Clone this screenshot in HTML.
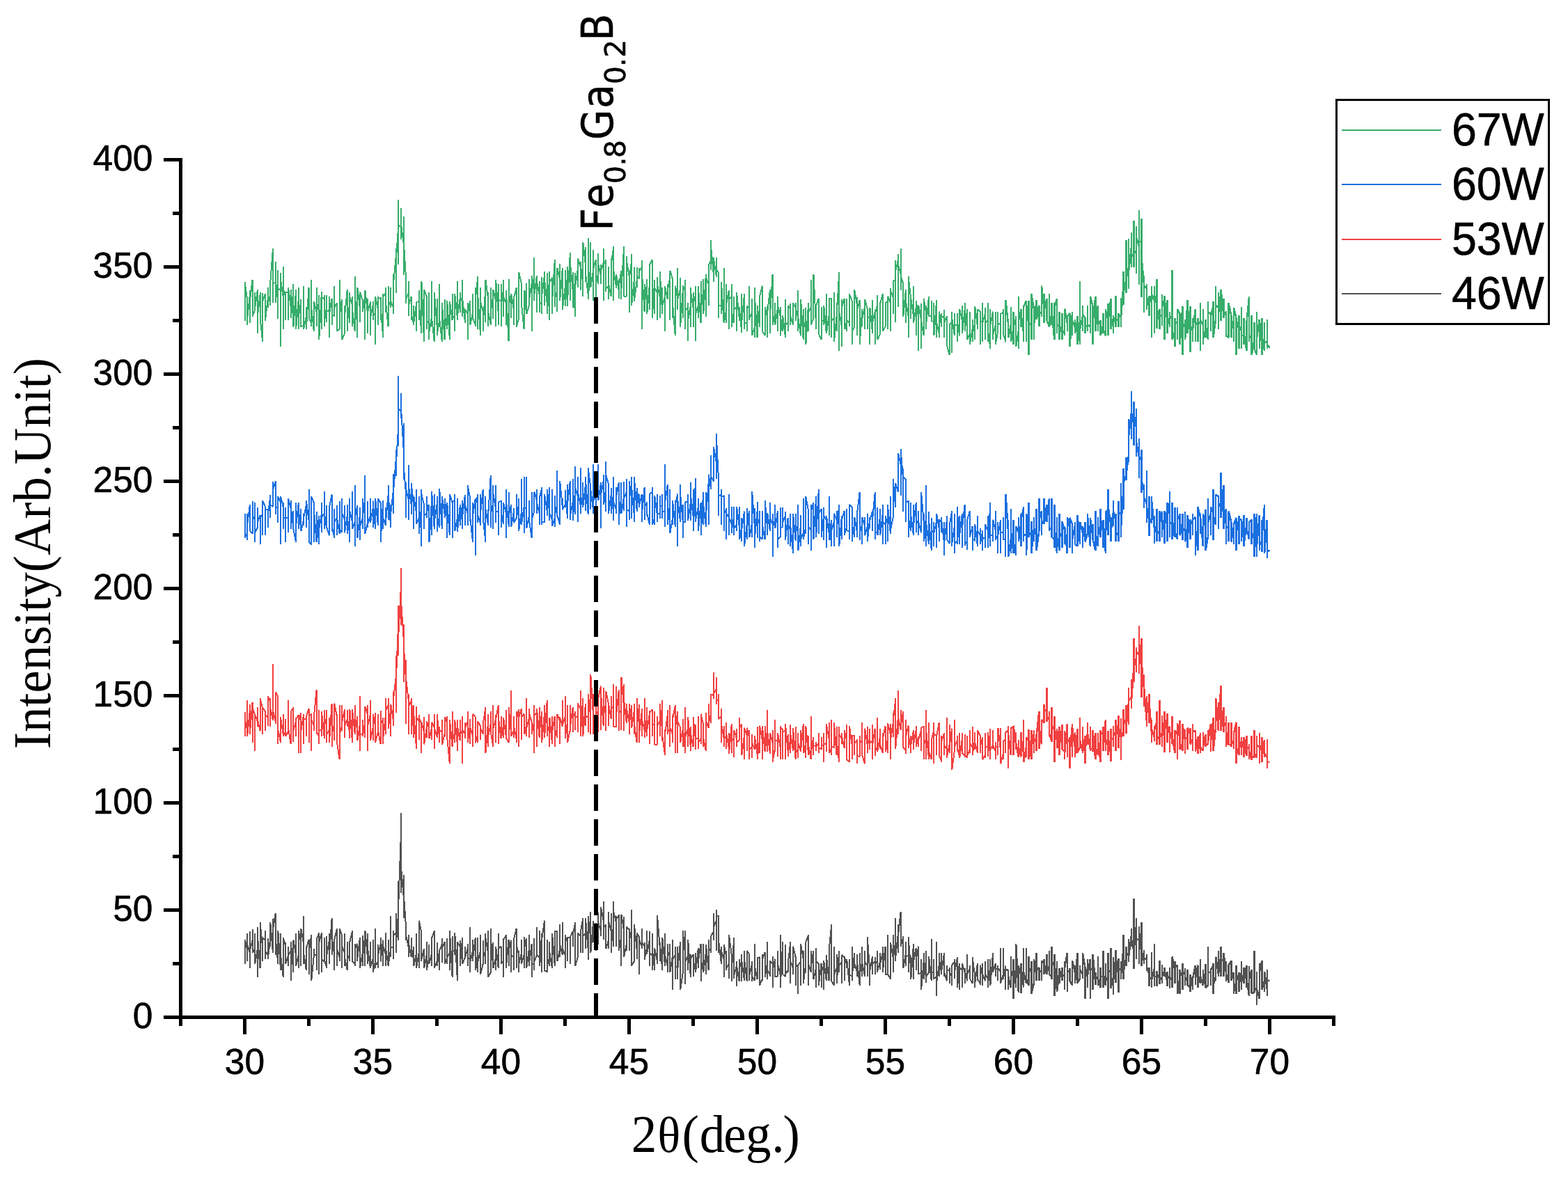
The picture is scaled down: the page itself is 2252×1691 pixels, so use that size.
<!DOCTYPE html>
<html lang="en"><head><meta charset="utf-8"><title>XRD patterns</title>
<style>html,body{margin:0;padding:0;background:#fff;overflow:hidden}svg{display:block}text{fill:#000}</style>
</head><body>
<svg width="2252" height="1691" viewBox="0 0 2252 1691" role="img" aria-label="XRD patterns of Fe0.8Ga0.2B films at 46W, 53W, 60W and 67W">
<rect x="0" y="0" width="2252" height="1691" fill="#fff"/>
<g id="traces">
<polyline points="351.50,1375.0 351.50,1353.7 351.50,1384.5 351.50,1349.7 351.50,1366.0 355.18,1350.6 355.18,1381.1 355.18,1350.6 355.18,1340.5 355.18,1356.8 358.86,1369.1 358.86,1391.3 358.86,1338.3 358.86,1362.9 358.86,1366.0 362.54,1350.6 362.54,1340.5 362.54,1369.1 362.54,1335.2 362.54,1369.1 366.22,1362.9 366.22,1384.5 366.22,1341.4 366.22,1372.2 366.22,1384.5 369.90,1362.9 369.90,1347.5 369.90,1403.6 369.90,1331.5 369.90,1344.5 373.58,1391.3 373.58,1372.2 373.58,1359.9 373.58,1375.3 373.58,1325.1 377.26,1362.9 377.26,1347.5 377.26,1381.1 377.26,1375.3 377.26,1347.5 380.94,1350.6 380.94,1375.0 380.94,1378.3 380.94,1337.4 380.94,1366.0 384.62,1372.2 384.62,1347.5 384.62,1353.7 384.62,1347.5 384.62,1378.3 388.30,1347.5 388.30,1356.8 388.30,1359.9 388.30,1325.1 391.98,1369.1 391.98,1335.2 391.98,1319.5 391.98,1369.1 391.98,1335.2 395.66,1312.4 395.66,1332.1 395.66,1372.2 395.66,1350.6 395.66,1347.5 399.34,1384.5 399.34,1362.9 399.34,1366.0 399.34,1359.9 399.34,1337.4 403.02,1394.0 403.02,1356.8 403.02,1344.5 403.02,1340.5 403.02,1372.2 406.70,1403.6 406.70,1369.1 406.70,1346.9 406.70,1350.6 406.70,1347.5 410.38,1359.9 410.38,1353.7 410.38,1362.9 410.38,1384.5 414.06,1372.2 414.06,1359.9 414.06,1369.1 414.06,1387.6 414.06,1372.2 417.74,1366.0 417.74,1384.5 417.74,1409.4 417.74,1353.1 421.42,1397.1 421.42,1381.4 421.42,1362.9 421.42,1378.3 421.42,1350.6 425.10,1372.2 425.10,1341.4 425.10,1387.6 425.10,1366.0 425.10,1387.6 428.78,1372.2 428.78,1359.9 428.78,1390.7 428.78,1372.2 428.78,1337.4 432.46,1353.7 432.46,1387.6 432.46,1381.1 432.46,1369.1 432.46,1334.3 436.14,1356.8 436.14,1384.5 436.14,1315.5 436.14,1356.8 436.14,1369.1 439.82,1394.0 439.82,1366.0 439.82,1384.5 439.82,1372.2 439.82,1362.9 443.50,1349.7 443.50,1372.2 443.50,1400.2 443.50,1369.1 447.18,1343.2 447.18,1366.0 447.18,1372.2 447.18,1362.9 447.18,1409.4 450.86,1372.2 450.86,1362.9 450.86,1372.2 450.86,1362.9 450.86,1372.2 454.54,1372.2 454.54,1362.9 454.54,1394.0 454.54,1369.1 454.54,1349.7 458.22,1340.5 458.22,1341.4 458.22,1400.2 458.22,1369.1 458.22,1353.7 461.90,1340.5 461.90,1397.1 461.90,1356.8 461.90,1378.3 465.58,1381.4 465.58,1350.6 465.58,1346.9 465.58,1378.3 469.26,1390.7 469.26,1355.9 469.26,1378.3 469.26,1344.5 469.26,1372.2 472.94,1350.6 472.94,1384.5 472.94,1353.7 472.94,1341.4 472.94,1372.2 476.62,1319.5 476.62,1362.9 476.62,1372.2 476.62,1362.9 476.62,1347.5 480.30,1372.2 480.30,1394.0 480.30,1366.0 480.30,1349.7 483.98,1334.3 483.98,1387.6 483.98,1384.5 483.98,1375.3 483.98,1362.9 487.66,1375.3 487.66,1372.2 487.66,1369.1 487.66,1381.1 487.66,1334.3 491.34,1344.5 491.34,1391.3 491.34,1356.8 491.34,1359.9 495.02,1369.1 495.02,1378.3 495.02,1340.5 495.02,1387.6 495.02,1375.3 498.70,1394.0 498.70,1353.1 498.70,1359.9 498.70,1353.7 498.70,1372.2 502.38,1378.6 502.38,1381.4 502.38,1375.3 502.38,1353.1 506.06,1337.4 506.06,1381.4 506.06,1356.8 506.06,1381.4 509.74,1384.5 509.74,1362.9 509.74,1355.9 509.74,1387.6 509.74,1362.9 513.42,1355.9 513.42,1366.0 513.42,1381.1 513.42,1369.1 513.42,1375.3 517.10,1346.9 517.10,1390.7 517.10,1366.0 517.10,1356.8 517.10,1390.7 520.78,1369.1 520.78,1359.9 520.78,1344.5 520.78,1387.6 520.78,1344.5 524.46,1378.3 524.46,1375.3 524.46,1387.6 524.46,1366.0 524.46,1337.4 528.14,1378.3 528.14,1384.5 528.14,1381.4 528.14,1340.5 528.14,1362.9 531.82,1390.7 531.82,1384.5 531.82,1369.1 531.82,1353.1 531.82,1390.7 535.50,1378.3 535.50,1356.8 535.50,1369.1 535.50,1349.7 535.50,1397.1 539.18,1381.4 539.18,1390.7 539.18,1381.4 539.18,1334.3 539.18,1387.6 542.86,1381.4 542.86,1369.1 542.86,1356.8 542.86,1391.3 542.86,1372.2 546.54,1356.8 546.54,1378.3 546.54,1359.9 546.54,1346.9 546.54,1381.4 550.22,1350.6 550.22,1387.6 550.22,1375.3 550.22,1384.5 550.22,1359.6 553.90,1371.0 553.90,1387.6 553.90,1340.1 553.90,1361.8 557.58,1387.6 557.58,1349.7 557.58,1372.2 557.58,1366.0 557.58,1387.6 561.26,1362.9 561.26,1375.3 561.26,1315.5 561.26,1362.0 564.94,1360.0 564.94,1337.1 564.94,1378.3 564.94,1343.8 568.62,1340.1 568.62,1369.1 568.62,1312.4 568.62,1359.4 572.30,1308.9 572.30,1350.6 572.30,1265.9 572.30,1298.1 575.98,1197.5 575.98,1282.9 575.98,1168.0 575.98,1245.6 579.66,1287.6 579.66,1318.9 579.66,1257.0 579.66,1283.4 583.34,1335.1 583.34,1327.2 583.34,1350.6 583.34,1344.9 587.02,1362.0 587.02,1375.3 587.02,1343.2 587.02,1356.0 590.70,1375.0 590.70,1346.9 590.70,1359.9 590.70,1375.3 590.70,1359.9 594.38,1381.4 594.38,1362.9 594.38,1359.9 594.38,1375.3 594.38,1387.6 598.06,1369.1 598.06,1340.5 598.06,1387.6 598.06,1384.5 598.06,1390.7 601.74,1369.1 601.74,1391.3 601.74,1381.4 601.74,1372.2 601.74,1322.6 605.42,1340.5 605.42,1381.1 605.42,1378.3 605.42,1362.9 605.42,1378.3 609.10,1362.9 609.10,1369.1 609.10,1362.9 609.10,1375.3 609.10,1390.7 612.78,1372.2 612.78,1375.3 612.78,1353.1 612.78,1375.3 612.78,1394.0 616.46,1375.3 616.46,1356.8 616.46,1375.3 616.46,1362.9 616.46,1384.5 620.14,1369.1 620.14,1387.6 620.14,1369.1 620.14,1347.5 623.82,1337.4 623.82,1359.9 623.82,1390.7 623.82,1378.3 623.82,1390.7 627.50,1381.4 627.50,1353.7 627.50,1378.3 627.50,1381.4 627.50,1387.6 631.18,1366.0 631.18,1394.0 631.18,1366.0 634.86,1356.8 634.86,1359.9 634.86,1383.0 634.86,1347.5 634.86,1362.9 638.54,1353.1 638.54,1378.3 638.54,1384.5 638.54,1375.3 642.22,1384.5 642.22,1347.5 642.22,1378.3 642.22,1381.1 642.22,1375.3 645.90,1369.1 645.90,1356.8 645.90,1394.0 645.90,1372.2 645.90,1337.4 649.58,1403.6 649.58,1344.5 649.58,1356.8 649.58,1359.9 649.58,1366.0 653.26,1366.0 653.26,1369.1 653.26,1372.2 653.26,1356.8 653.26,1340.5 656.94,1409.4 656.94,1378.3 656.94,1356.8 656.94,1353.1 660.62,1359.9 660.62,1350.6 660.62,1359.9 660.62,1356.8 660.62,1387.6 664.30,1346.9 664.30,1350.6 664.30,1384.5 664.30,1369.1 664.30,1384.5 667.98,1375.3 667.98,1359.9 667.98,1375.3 667.98,1372.2 667.98,1375.3 671.66,1362.9 671.66,1366.0 671.66,1355.9 671.66,1387.6 671.66,1375.3 675.34,1378.3 675.34,1396.5 675.34,1372.2 675.34,1331.5 675.34,1381.4 679.02,1366.0 679.02,1381.4 679.02,1349.7 679.02,1378.3 682.70,1347.5 682.70,1356.8 682.70,1394.0 682.70,1362.9 682.70,1369.1 686.38,1397.1 686.38,1375.3 686.38,1393.7 686.38,1346.9 686.38,1381.4 690.06,1366.0 690.06,1343.2 690.06,1362.9 690.06,1400.2 693.74,1384.5 693.74,1381.4 693.74,1353.7 693.74,1350.6 693.74,1375.3 697.42,1366.0 697.42,1340.5 697.42,1356.8 697.42,1384.5 697.42,1347.5 701.10,1369.1 701.10,1387.6 701.10,1381.4 701.10,1337.4 701.10,1403.6 704.78,1397.1 704.78,1356.8 704.78,1334.3 704.78,1359.9 704.78,1347.5 708.46,1390.7 708.46,1375.3 708.46,1353.7 708.46,1359.9 708.46,1390.7 712.14,1375.3 712.14,1362.9 712.14,1393.7 712.14,1359.6 715.82,1391.3 715.82,1362.9 715.82,1340.5 715.82,1359.9 715.82,1362.9 719.50,1359.9 719.50,1362.9 719.50,1369.1 719.50,1381.4 719.50,1384.5 723.18,1381.4 723.18,1347.5 723.18,1403.6 723.18,1393.7 723.18,1350.6 726.86,1343.2 726.86,1381.4 726.86,1369.1 726.86,1384.5 726.86,1390.7 730.54,1349.7 730.54,1387.6 730.54,1356.8 730.54,1359.9 730.54,1366.0 734.22,1350.6 734.22,1356.8 734.22,1372.2 734.22,1397.1 734.22,1372.2 737.90,1375.3 737.90,1356.8 737.90,1394.0 737.90,1349.7 741.58,1334.3 741.58,1391.3 741.58,1369.1 741.58,1350.6 741.58,1356.8 745.26,1372.2 745.26,1381.4 745.26,1366.0 745.26,1397.1 745.26,1384.5 748.94,1369.1 748.94,1372.2 748.94,1369.1 748.94,1349.7 748.94,1384.5 752.62,1372.2 752.62,1384.5 752.62,1372.2 752.62,1391.3 752.62,1346.6 756.30,1362.9 756.30,1347.5 756.30,1387.6 756.30,1390.7 759.98,1362.9 759.98,1353.7 759.98,1343.2 759.98,1387.6 759.98,1384.5 763.66,1355.9 763.66,1403.6 763.66,1369.1 763.66,1356.8 763.66,1384.5 767.34,1384.5 767.34,1347.5 767.34,1394.0 767.34,1372.2 767.34,1381.4 771.02,1372.2 771.02,1362.9 771.02,1372.2 771.02,1331.5 771.02,1372.2 774.70,1375.3 774.70,1387.6 774.70,1381.4 774.70,1372.2 774.70,1337.4 778.38,1396.5 778.38,1340.5 778.38,1372.2 778.38,1369.1 778.38,1347.5 782.06,1322.6 782.06,1369.1 782.06,1353.7 782.06,1372.2 782.06,1394.0 785.74,1396.5 785.74,1378.3 785.74,1349.7 785.74,1381.4 785.74,1375.3 789.42,1387.6 789.42,1353.1 789.42,1356.8 789.42,1381.4 789.42,1369.1 793.10,1391.3 793.10,1355.9 793.10,1387.6 793.10,1375.3 793.10,1341.4 796.78,1387.6 796.78,1346.6 796.78,1387.6 796.78,1375.3 796.78,1338.3 800.46,1337.4 800.46,1375.3 800.46,1344.5 800.46,1381.1 804.14,1362.9 804.14,1375.0 804.14,1328.4 804.14,1338.3 804.14,1356.8 807.82,1372.2 807.82,1325.1 807.82,1362.9 807.82,1359.9 807.82,1362.9 811.50,1372.2 811.50,1343.2 811.50,1347.5 811.50,1391.3 811.50,1344.5 815.18,1353.7 815.18,1381.4 815.18,1366.0 815.18,1356.8 815.18,1346.6 818.86,1347.5 818.86,1384.5 818.86,1381.4 818.86,1346.6 822.54,1338.0 822.54,1353.7 822.54,1359.9 822.54,1356.8 822.54,1344.5 826.22,1325.1 826.22,1347.5 826.22,1332.1 826.22,1344.5 826.22,1387.6 829.90,1375.0 829.90,1362.9 829.90,1344.5 829.90,1347.5 829.90,1340.5 833.58,1344.5 833.58,1369.4 833.58,1356.8 833.58,1350.6 833.58,1340.5 837.26,1319.5 837.26,1369.4 837.26,1350.6 837.26,1338.3 837.26,1344.5 840.94,1341.4 840.94,1344.5 840.94,1347.5 840.94,1362.9 840.94,1319.5 844.62,1362.9 844.62,1378.6 844.62,1315.5 844.62,1322.9 844.62,1316.7 848.30,1347.5 848.30,1332.1 848.30,1310.3 848.30,1359.6 848.30,1369.1 851.98,1325.1 851.98,1344.5 851.98,1354.0 851.98,1338.3 851.98,1322.9 855.66,1347.5 855.66,1326.0 855.66,1347.5 855.66,1366.0 855.66,1350.6 859.34,1356.8 859.34,1341.4 859.34,1338.3 859.34,1310.6 859.34,1326.0 863.02,1338.0 863.02,1341.4 863.02,1344.5 863.02,1341.4 863.02,1303.5 866.70,1322.9 866.70,1349.7 866.70,1294.6 866.70,1316.7 866.70,1332.1 870.38,1329.1 870.38,1354.0 870.38,1327.8 870.38,1347.5 870.38,1362.9 874.06,1350.6 874.06,1310.3 874.06,1341.4 874.06,1362.9 874.06,1322.9 877.74,1338.3 877.74,1335.2 877.74,1369.4 877.74,1312.4 877.74,1329.1 881.42,1359.6 881.42,1319.8 881.42,1294.6 881.42,1322.9 881.42,1310.6 885.10,1326.0 885.10,1315.5 885.10,1344.5 885.10,1359.6 885.10,1319.8 888.78,1315.5 888.78,1326.0 888.78,1338.3 888.78,1313.7 888.78,1366.0 892.46,1344.5 892.46,1387.6 892.46,1315.5 892.46,1329.1 892.46,1313.7 896.14,1338.3 896.14,1325.1 896.14,1316.7 896.14,1329.1 896.14,1375.0 899.82,1356.8 899.82,1338.3 899.82,1366.0 899.82,1341.4 899.82,1331.5 903.50,1335.2 903.50,1341.4 903.50,1350.6 903.50,1366.0 903.50,1334.3 907.18,1350.6 907.18,1366.0 907.18,1353.7 907.18,1306.6 907.18,1387.6 910.86,1381.1 910.86,1359.9 910.86,1335.2 910.86,1369.1 910.86,1328.4 914.54,1362.9 914.54,1378.3 914.54,1344.5 914.54,1347.5 914.54,1340.5 918.22,1346.6 918.22,1350.6 918.22,1359.9 918.22,1400.2 918.22,1350.6 921.90,1359.9 921.90,1344.5 921.90,1362.9 921.90,1334.3 921.90,1353.7 925.58,1359.9 925.58,1372.2 925.58,1356.8 925.58,1353.7 925.58,1378.6 929.26,1359.9 929.26,1371.3 929.26,1366.0 929.26,1337.4 929.26,1369.1 932.94,1349.7 932.94,1338.3 932.94,1387.6 932.94,1369.1 936.62,1372.2 936.62,1366.0 936.62,1340.5 936.62,1394.0 936.62,1362.9 940.30,1394.0 940.30,1375.3 940.30,1362.3 940.30,1369.1 940.30,1362.9 943.98,1381.4 943.98,1356.8 943.98,1359.9 943.98,1384.5 943.98,1315.5 947.66,1359.9 947.66,1381.1 947.66,1381.4 947.66,1366.0 947.66,1353.7 951.34,1394.0 951.34,1359.9 951.34,1353.7 951.34,1346.6 951.34,1347.5 955.02,1387.6 955.02,1384.5 955.02,1340.5 955.02,1381.4 955.02,1372.2 958.70,1387.6 958.70,1396.8 958.70,1355.9 958.70,1396.8 958.70,1375.3 962.38,1366.0 962.38,1362.9 962.38,1355.9 962.38,1378.3 962.38,1396.5 966.06,1372.2 966.06,1375.3 966.06,1422.4 966.06,1349.7 966.06,1378.3 969.74,1372.2 969.74,1359.6 969.74,1384.5 969.74,1406.7 969.74,1387.6 973.42,1390.7 973.42,1359.6 973.42,1406.7 973.42,1390.7 977.10,1353.1 977.10,1375.3 977.10,1378.3 977.10,1381.4 977.10,1422.4 980.78,1397.1 980.78,1337.4 980.78,1384.5 980.78,1369.1 980.78,1372.2 984.46,1337.4 984.46,1413.5 984.46,1381.4 984.46,1390.7 984.46,1381.4 988.14,1372.2 988.14,1390.7 988.14,1387.6 988.14,1394.0 988.14,1349.7 991.82,1403.6 991.82,1387.6 991.82,1371.3 991.82,1378.3 995.50,1371.3 995.50,1393.7 995.50,1403.0 995.50,1384.5 995.50,1396.8 999.18,1381.4 999.18,1368.5 999.18,1390.7 999.18,1381.4 999.18,1396.5 1002.86,1362.3 1002.86,1390.7 1002.86,1372.2 1002.86,1384.5 1002.86,1381.4 1006.54,1355.9 1006.54,1396.8 1006.54,1409.8 1006.54,1387.6 1006.54,1378.3 1010.22,1396.8 1010.22,1378.3 1010.22,1372.2 1010.22,1355.9 1010.22,1397.1 1013.90,1368.5 1013.90,1400.2 1013.90,1387.6 1013.90,1356.8 1017.58,1393.7 1017.58,1349.7 1017.58,1384.5 1017.58,1372.2 1017.58,1366.0 1021.26,1363.2 1021.26,1346.6 1021.26,1369.1 1021.26,1359.9 1021.26,1344.5 1024.94,1338.3 1024.94,1350.6 1024.94,1335.2 1024.94,1312.4 1024.94,1332.1 1028.62,1322.9 1028.62,1366.0 1028.62,1322.9 1028.62,1306.6 1028.62,1316.7 1032.30,1315.5 1032.30,1353.7 1032.30,1368.5 1032.30,1353.7 1035.98,1384.5 1035.98,1366.0 1035.98,1359.9 1035.98,1366.0 1039.66,1378.3 1039.66,1403.6 1039.66,1369.1 1039.66,1368.5 1039.66,1356.8 1043.34,1375.3 1043.34,1394.0 1043.34,1369.1 1043.34,1366.0 1043.34,1390.7 1047.02,1384.5 1047.02,1372.2 1047.02,1399.9 1047.02,1406.1 1047.02,1343.2 1050.70,1371.3 1050.70,1409.8 1050.70,1384.5 1050.70,1372.2 1050.70,1393.7 1054.38,1346.6 1054.38,1372.2 1054.38,1406.1 1054.38,1390.7 1054.38,1399.9 1058.06,1387.6 1058.06,1381.1 1058.06,1416.5 1058.06,1390.7 1058.06,1387.6 1061.74,1409.8 1061.74,1378.3 1061.74,1377.7 1061.74,1381.4 1065.42,1390.7 1065.42,1409.8 1065.42,1384.5 1065.42,1371.3 1065.42,1381.4 1069.10,1409.1 1069.10,1366.0 1069.10,1396.8 1069.10,1403.0 1069.10,1378.3 1072.78,1409.8 1072.78,1377.7 1072.78,1399.9 1072.78,1387.6 1072.78,1366.0 1076.46,1371.3 1076.46,1409.1 1076.46,1399.9 1076.46,1375.3 1076.46,1399.9 1080.14,1384.5 1080.14,1381.1 1080.14,1409.8 1080.14,1381.4 1080.14,1403.0 1083.82,1409.1 1083.82,1384.5 1083.82,1381.4 1083.82,1355.9 1083.82,1387.6 1087.50,1406.7 1087.50,1393.7 1087.50,1375.3 1087.50,1384.5 1087.50,1377.7 1091.18,1375.0 1091.18,1406.1 1091.18,1403.0 1091.18,1406.1 1091.18,1415.6 1094.86,1406.1 1094.86,1409.1 1094.86,1371.3 1094.86,1393.7 1094.86,1378.3 1098.54,1368.5 1098.54,1403.6 1098.54,1372.2 1098.54,1381.4 1102.22,1403.0 1102.22,1353.1 1102.22,1387.6 1102.22,1406.7 1102.22,1393.7 1105.90,1399.9 1105.90,1396.8 1105.90,1403.0 1105.90,1380.5 1109.58,1384.5 1109.58,1419.3 1109.58,1374.0 1109.58,1378.3 1109.58,1393.7 1113.26,1377.7 1113.26,1403.6 1113.26,1393.7 1113.26,1390.7 1113.26,1403.0 1116.94,1403.0 1116.94,1378.3 1116.94,1393.7 1116.94,1365.7 1116.94,1384.5 1120.62,1399.9 1120.62,1393.7 1120.62,1396.8 1120.62,1343.2 1120.62,1419.3 1124.30,1353.4 1124.30,1384.5 1124.30,1396.8 1124.30,1393.7 1124.30,1399.9 1127.98,1403.0 1127.98,1356.5 1127.98,1396.8 1127.98,1399.9 1131.66,1393.7 1131.66,1377.7 1131.66,1396.8 1131.66,1387.6 1131.66,1384.5 1135.34,1353.4 1135.34,1381.4 1135.34,1384.5 1135.34,1412.5 1135.34,1381.4 1139.02,1390.7 1139.02,1399.9 1139.02,1387.6 1139.02,1359.6 1142.70,1375.3 1142.70,1390.7 1142.70,1374.0 1142.70,1415.6 1142.70,1384.5 1146.38,1390.7 1146.38,1387.6 1146.38,1428.2 1146.38,1386.7 1150.06,1381.4 1150.06,1399.9 1150.06,1415.6 1150.06,1396.8 1150.06,1356.5 1153.74,1378.6 1153.74,1366.0 1153.74,1375.3 1153.74,1412.8 1157.42,1384.5 1157.42,1369.1 1157.42,1396.8 1157.42,1353.4 1161.10,1343.2 1161.10,1415.6 1161.10,1399.9 1161.10,1406.1 1161.10,1384.5 1164.78,1396.8 1164.78,1369.1 1164.78,1378.3 1164.78,1366.0 1168.46,1390.7 1168.46,1393.7 1168.46,1365.7 1168.46,1390.7 1168.46,1406.7 1172.14,1390.7 1172.14,1384.5 1172.14,1419.3 1172.14,1362.3 1172.14,1381.4 1175.82,1384.5 1175.82,1383.9 1175.82,1396.8 1175.82,1393.7 1175.82,1415.6 1179.50,1384.5 1179.50,1419.3 1179.50,1386.7 1179.50,1387.6 1179.50,1396.8 1183.18,1387.6 1183.18,1393.7 1183.18,1422.1 1183.18,1393.7 1183.18,1380.5 1186.86,1409.4 1186.86,1393.7 1186.86,1396.8 1186.86,1378.3 1186.86,1372.2 1190.54,1409.4 1190.54,1378.3 1190.54,1365.7 1190.54,1366.0 1194.22,1328.4 1194.22,1390.7 1194.22,1387.6 1194.22,1390.7 1194.22,1409.4 1197.90,1415.6 1197.90,1384.5 1197.90,1381.4 1197.90,1359.6 1197.90,1399.9 1201.58,1390.7 1201.58,1406.1 1201.58,1371.3 1201.58,1393.7 1201.58,1412.5 1205.26,1365.7 1205.26,1396.8 1205.26,1387.6 1205.26,1384.5 1205.26,1387.6 1208.94,1381.4 1208.94,1386.7 1208.94,1412.8 1208.94,1387.6 1208.94,1372.2 1212.62,1375.3 1212.62,1378.3 1212.62,1409.4 1212.62,1375.3 1212.62,1374.0 1216.30,1386.7 1216.30,1380.5 1216.30,1390.7 1216.30,1381.4 1216.30,1378.3 1219.98,1415.6 1219.98,1396.8 1219.98,1377.7 1219.98,1390.7 1219.98,1399.9 1223.66,1403.0 1223.66,1409.1 1223.66,1359.6 1223.66,1403.0 1227.34,1368.8 1227.34,1390.7 1227.34,1387.6 1227.34,1390.4 1227.34,1384.5 1231.02,1396.8 1231.02,1390.4 1231.02,1403.0 1231.02,1371.3 1231.02,1381.4 1234.70,1415.6 1234.70,1387.6 1234.70,1384.5 1234.70,1368.8 1234.70,1381.4 1238.38,1399.9 1238.38,1403.0 1238.38,1396.8 1238.38,1359.6 1238.38,1384.5 1242.06,1403.0 1242.06,1369.1 1242.06,1368.8 1242.06,1366.0 1242.06,1381.4 1245.74,1387.6 1245.74,1393.7 1245.74,1403.0 1245.74,1381.4 1245.74,1346.3 1249.42,1396.8 1249.42,1383.9 1249.42,1396.8 1249.42,1415.6 1249.42,1393.7 1253.10,1374.0 1253.10,1378.3 1253.10,1384.5 1253.10,1399.9 1253.10,1384.5 1256.78,1381.4 1256.78,1399.9 1256.78,1375.3 1256.78,1390.7 1256.78,1380.5 1260.46,1384.5 1260.46,1381.4 1260.46,1396.8 1260.46,1365.7 1260.46,1393.7 1264.14,1381.4 1264.14,1393.1 1264.14,1387.6 1264.14,1368.8 1264.14,1384.5 1267.82,1369.1 1267.82,1359.6 1267.82,1362.9 1267.82,1381.4 1267.82,1396.8 1271.50,1359.6 1271.50,1384.5 1271.50,1362.9 1271.50,1387.6 1271.50,1399.9 1275.18,1399.9 1275.18,1343.2 1275.18,1393.1 1275.18,1381.4 1275.18,1399.9 1278.86,1406.7 1278.86,1359.9 1278.86,1362.9 1278.86,1356.5 1278.86,1353.7 1282.54,1375.3 1282.54,1396.8 1282.54,1343.2 1282.54,1369.1 1282.54,1378.3 1286.22,1353.7 1286.22,1347.5 1286.22,1380.5 1286.22,1319.2 1286.22,1375.3 1289.90,1341.4 1289.90,1368.8 1289.90,1328.4 1289.90,1344.5 1293.58,1310.3 1293.58,1329.1 1293.58,1341.4 1293.58,1329.1 1293.58,1359.6 1297.26,1346.3 1297.26,1356.8 1297.26,1350.6 1297.26,1344.5 1297.26,1391.3 1300.94,1369.1 1300.94,1386.7 1300.94,1387.6 1300.94,1353.4 1300.94,1375.3 1304.62,1372.2 1304.62,1396.8 1304.62,1381.4 1304.62,1390.7 1304.62,1346.3 1308.30,1393.7 1308.30,1374.0 1308.30,1378.3 1308.30,1406.7 1311.98,1356.5 1311.98,1406.7 1311.98,1384.5 1311.98,1381.4 1315.66,1362.3 1315.66,1393.1 1315.66,1387.6 1315.66,1393.7 1315.66,1378.3 1319.34,1359.6 1319.34,1396.8 1319.34,1393.7 1319.34,1396.8 1319.34,1399.9 1323.02,1396.8 1323.02,1377.7 1323.02,1393.7 1323.02,1396.8 1323.02,1422.1 1326.70,1381.4 1326.70,1368.8 1326.70,1387.6 1326.70,1406.7 1326.70,1375.3 1330.38,1409.1 1330.38,1409.4 1330.38,1365.7 1330.38,1412.2 1330.38,1403.0 1334.06,1396.8 1334.06,1381.4 1334.06,1396.8 1334.06,1374.0 1337.74,1409.4 1337.74,1384.5 1337.74,1349.4 1337.74,1390.7 1337.74,1396.8 1341.42,1396.8 1341.42,1377.7 1341.42,1387.6 1341.42,1406.7 1341.42,1406.1 1345.10,1403.0 1345.10,1353.4 1345.10,1431.0 1345.10,1396.8 1345.10,1412.2 1348.78,1386.7 1348.78,1368.8 1348.78,1403.0 1348.78,1372.2 1348.78,1378.3 1352.46,1399.9 1352.46,1396.8 1352.46,1368.8 1352.46,1387.6 1352.46,1393.7 1356.14,1368.8 1356.14,1399.9 1356.14,1396.8 1356.14,1403.0 1356.14,1396.8 1359.82,1409.4 1359.82,1409.1 1359.82,1386.7 1359.82,1406.1 1359.82,1393.7 1363.50,1393.7 1363.50,1412.8 1363.50,1390.4 1363.50,1396.8 1367.18,1403.0 1367.18,1396.8 1367.18,1415.6 1367.18,1390.7 1367.18,1386.7 1370.86,1381.4 1370.86,1377.7 1370.86,1393.7 1370.86,1406.1 1370.86,1396.8 1374.54,1378.3 1374.54,1377.7 1374.54,1419.3 1374.54,1387.6 1374.54,1375.3 1378.22,1422.1 1378.22,1403.0 1378.22,1412.2 1378.22,1383.9 1378.22,1390.7 1381.90,1393.7 1381.90,1419.3 1381.90,1399.9 1381.90,1383.9 1381.90,1384.5 1385.58,1396.8 1385.58,1390.7 1385.58,1412.5 1385.58,1412.2 1385.58,1393.7 1389.26,1409.4 1389.26,1371.3 1389.26,1384.5 1389.26,1396.8 1389.26,1399.9 1392.94,1390.7 1392.94,1386.7 1392.94,1406.1 1392.94,1406.7 1392.94,1406.1 1396.62,1412.8 1396.62,1390.7 1396.62,1390.4 1396.62,1378.3 1396.62,1375.3 1400.30,1403.0 1400.30,1412.2 1400.30,1419.3 1400.30,1403.0 1400.30,1412.2 1403.98,1383.9 1403.98,1409.4 1403.98,1387.6 1403.98,1390.7 1403.98,1406.1 1407.66,1412.8 1407.66,1409.1 1407.66,1403.0 1407.66,1415.3 1407.66,1386.7 1411.34,1403.0 1411.34,1415.6 1411.34,1396.8 1411.34,1383.9 1411.34,1399.9 1415.02,1409.4 1415.02,1393.7 1415.02,1383.9 1415.02,1381.4 1415.02,1399.9 1418.70,1406.1 1418.70,1377.7 1418.70,1412.2 1418.70,1419.3 1418.70,1415.3 1422.38,1387.6 1422.38,1378.3 1422.38,1386.7 1422.38,1384.5 1422.38,1415.6 1426.06,1368.8 1426.06,1387.6 1426.06,1378.3 1426.06,1390.7 1426.06,1396.8 1429.74,1383.9 1429.74,1387.6 1429.74,1403.0 1429.74,1393.7 1429.74,1390.7 1433.42,1393.7 1433.42,1409.4 1433.42,1386.7 1433.42,1409.1 1433.42,1390.7 1437.10,1396.8 1437.10,1362.3 1437.10,1412.2 1437.10,1393.7 1437.10,1412.8 1440.78,1399.9 1440.78,1362.3 1440.78,1390.7 1440.78,1406.7 1444.46,1387.6 1444.46,1403.0 1444.46,1396.8 1444.46,1422.1 1444.46,1393.7" fill="none" stroke="#515151" stroke-width="2" stroke-linejoin="bevel" shape-rendering="crispEdges"/>
<polyline points="1444.46,1393.7 1448.14,1393.7 1448.14,1396.8 1448.14,1403.0 1448.14,1422.1 1448.14,1403.0 1451.82,1419.3 1451.82,1409.1 1451.82,1374.0 1451.82,1390.7 1451.82,1403.0 1455.50,1393.7 1455.50,1377.7 1455.50,1434.7 1455.50,1412.2 1455.50,1418.4 1459.18,1390.7 1459.18,1419.3 1459.18,1393.7 1459.18,1390.7 1459.18,1356.5 1462.86,1425.8 1462.86,1396.8 1462.86,1386.7 1462.86,1399.9 1466.54,1387.6 1466.54,1390.7 1466.54,1383.9 1466.54,1427.3 1466.54,1390.7 1470.22,1418.4 1470.22,1362.3 1470.22,1399.9 1470.22,1403.0 1470.22,1396.8 1473.90,1412.2 1473.90,1362.3 1473.90,1412.2 1473.90,1412.8 1473.90,1406.1 1477.58,1415.6 1477.58,1403.0 1477.58,1374.0 1477.58,1393.7 1477.58,1390.7 1481.26,1396.8 1481.26,1399.9 1481.26,1390.7 1481.26,1380.5 1481.26,1428.2 1484.94,1412.8 1484.94,1384.5 1484.94,1386.7 1484.94,1403.0 1484.94,1378.3 1488.62,1403.0 1488.62,1409.4 1488.62,1387.6 1488.62,1368.8 1488.62,1393.7 1492.30,1390.4 1492.30,1409.4 1492.30,1399.9 1492.30,1390.7 1492.30,1393.7 1495.98,1396.8 1495.98,1393.7 1495.98,1409.4 1495.98,1396.8 1495.98,1380.5 1499.66,1384.5 1499.66,1377.7 1499.66,1399.9 1499.66,1396.8 1499.66,1399.9 1503.34,1384.5 1503.34,1393.7 1503.34,1399.9 1503.34,1371.3 1503.34,1396.8 1507.02,1387.6 1507.02,1375.3 1507.02,1378.3 1507.02,1365.7 1507.02,1399.9 1510.70,1403.0 1510.70,1378.3 1510.70,1359.6 1510.70,1406.7 1510.70,1387.6 1514.38,1381.4 1514.38,1371.3 1514.38,1387.6 1514.38,1390.7 1514.38,1431.0 1518.06,1387.6 1518.06,1396.8 1518.06,1380.5 1518.06,1390.7 1518.06,1424.8 1521.74,1393.1 1521.74,1412.8 1521.74,1393.7 1521.74,1390.7 1521.74,1393.7 1525.42,1406.1 1525.42,1409.4 1525.42,1406.1 1525.42,1390.4 1525.42,1403.0 1529.10,1399.9 1529.10,1390.7 1529.10,1380.5 1529.10,1422.1 1529.10,1390.7 1532.78,1368.8 1532.78,1396.8 1532.78,1424.8 1532.78,1396.8 1536.46,1394.0 1536.46,1406.1 1536.46,1396.8 1536.46,1390.7 1536.46,1409.4 1540.14,1415.6 1540.14,1396.8 1540.14,1393.7 1540.14,1390.7 1540.14,1380.5 1543.82,1396.8 1543.82,1412.2 1543.82,1386.7 1543.82,1409.1 1543.82,1412.8 1547.50,1368.8 1547.50,1412.8 1547.50,1403.0 1547.50,1412.2 1551.18,1406.1 1551.18,1386.7 1551.18,1405.8 1551.18,1396.8 1551.18,1393.7 1554.86,1399.9 1554.86,1387.6 1554.86,1405.8 1554.86,1393.7 1554.86,1368.8 1558.54,1390.4 1558.54,1434.7 1558.54,1409.1 1558.54,1406.1 1562.22,1390.4 1562.22,1399.9 1562.22,1378.3 1562.22,1419.3 1562.22,1399.9 1565.90,1377.7 1565.90,1406.1 1565.90,1434.7 1565.90,1396.8 1565.90,1393.7 1569.58,1390.7 1569.58,1393.7 1569.58,1387.6 1569.58,1422.1 1569.58,1371.3 1573.26,1412.8 1573.26,1415.3 1573.26,1396.8 1573.26,1412.2 1573.26,1403.0 1576.94,1406.1 1576.94,1390.7 1576.94,1374.0 1576.94,1415.6 1576.94,1406.1 1580.62,1419.3 1580.62,1390.4 1580.62,1406.1 1580.62,1390.7 1580.62,1403.0 1584.30,1403.0 1584.30,1365.7 1584.30,1419.3 1584.30,1375.3 1584.30,1396.8 1587.98,1415.6 1587.98,1393.7 1587.98,1383.9 1587.98,1409.1 1591.66,1402.8 1591.66,1434.7 1591.66,1368.8 1591.66,1394.0 1595.34,1397.5 1595.34,1419.6 1595.34,1362.3 1595.34,1400.8 1599.02,1416.8 1599.02,1375.3 1599.02,1428.9 1599.02,1409.8 1602.70,1372.7 1602.70,1412.2 1602.70,1365.4 1602.70,1375.9 1606.38,1401.6 1606.38,1377.4 1606.38,1425.5 1606.38,1393.2 1610.06,1392.3 1610.06,1406.7 1610.06,1380.5 1610.06,1399.8 1613.74,1359.2 1613.74,1406.7 1613.74,1343.2 1613.74,1395.9 1617.42,1375.7 1617.42,1359.9 1617.42,1387.6 1617.42,1368.7 1621.10,1372.7 1621.10,1381.7 1621.10,1349.1 1621.10,1374.8 1624.78,1344.9 1624.78,1334.3 1624.78,1359.9 1624.78,1348.5 1628.46,1365.8 1628.46,1291.2 1628.46,1391.6 1628.46,1365.4 1632.14,1328.8 1632.14,1319.2 1632.14,1378.3 1632.14,1349.4 1635.82,1350.4 1635.82,1384.5 1635.82,1331.2 1635.82,1367.9 1639.50,1334.7 1639.50,1325.4 1639.50,1387.6 1639.50,1365.8 1643.18,1382.1 1643.18,1385.1 1643.18,1365.4 1643.18,1377.0 1646.86,1378.2 1646.86,1371.3 1646.86,1394.7 1646.86,1389.3 1650.54,1400.4 1650.54,1416.5 1650.54,1390.4 1650.54,1405.6 1654.22,1405.3 1654.22,1368.2 1654.22,1418.7 1654.22,1407.3 1657.90,1391.6 1657.90,1416.5 1657.90,1356.2 1657.90,1403.9 1661.58,1401.9 1661.58,1394.7 1661.58,1416.5 1661.58,1405.6 1665.26,1400.1 1665.26,1380.2 1665.26,1413.8 1665.26,1402.5 1668.94,1408.1 1668.94,1386.0 1668.94,1413.1 1668.94,1402.7 1672.62,1394.9 1672.62,1390.4 1672.62,1403.0 1672.62,1394.9 1676.30,1409.8 1676.30,1416.5 1676.30,1396.2 1676.30,1401.8 1679.98,1405.2 1679.98,1390.4 1679.98,1419.6 1679.98,1408.5 1683.66,1403.0 1683.66,1393.7 1683.66,1419.3 1683.66,1412.2 1683.66,1374.6 1687.34,1393.7 1687.34,1380.5 1687.34,1390.7 1687.34,1412.8 1687.34,1390.7 1691.02,1386.7 1691.02,1406.1 1691.02,1396.8 1691.02,1399.9 1691.02,1428.2 1694.70,1403.0 1694.70,1396.8 1694.70,1428.2 1694.70,1393.1 1694.70,1403.0 1698.38,1396.8 1698.38,1415.6 1698.38,1383.6 1698.38,1421.5 1698.38,1399.9 1702.06,1396.8 1702.06,1390.7 1702.06,1415.6 1702.06,1393.1 1702.06,1409.1 1705.74,1403.0 1705.74,1393.1 1705.74,1406.1 1705.74,1399.9 1705.74,1415.6 1709.42,1418.4 1709.42,1424.8 1709.42,1412.2 1709.42,1405.8 1709.42,1399.9 1713.10,1418.4 1713.10,1419.3 1713.10,1409.1 1713.10,1421.5 1713.10,1405.8 1716.78,1386.7 1716.78,1412.8 1716.78,1415.3 1716.78,1396.8 1716.78,1406.1 1720.46,1386.7 1720.46,1419.3 1720.46,1409.1 1720.46,1412.2 1720.46,1399.9 1724.14,1412.8 1724.14,1377.7 1724.14,1384.5 1724.14,1406.1 1724.14,1403.0 1727.82,1415.6 1727.82,1403.0 1727.82,1393.1 1727.82,1396.8 1731.50,1418.4 1731.50,1412.2 1731.50,1393.1 1731.50,1384.5 1731.50,1419.3 1735.18,1415.6 1735.18,1359.6 1735.18,1387.6 1735.18,1396.8 1738.86,1396.8 1738.86,1390.7 1738.86,1393.7 1738.86,1415.6 1738.86,1393.1 1742.54,1387.6 1742.54,1399.9 1742.54,1428.2 1742.54,1383.6 1742.54,1415.3 1746.22,1403.0 1746.22,1399.9 1746.22,1409.1 1746.22,1374.6 1749.90,1399.9 1749.90,1387.6 1749.90,1365.7 1749.90,1403.0 1749.90,1375.3 1753.58,1403.0 1753.58,1378.3 1753.58,1359.6 1753.58,1366.0 1753.58,1381.4 1757.26,1378.3 1757.26,1403.0 1757.26,1393.7 1757.26,1384.5 1757.26,1368.8 1760.94,1396.8 1760.94,1380.5 1760.94,1387.6 1760.94,1406.1 1760.94,1409.4 1764.62,1396.8 1764.62,1409.4 1764.62,1412.2 1764.62,1387.6 1764.62,1386.7 1768.30,1380.5 1768.30,1399.9 1768.30,1393.7 1768.30,1409.4 1768.30,1393.7 1771.98,1406.1 1771.98,1396.8 1771.98,1399.9 1771.98,1428.2 1771.98,1412.2 1775.66,1428.2 1775.66,1386.7 1775.66,1412.2 1775.66,1403.0 1775.66,1409.1 1779.34,1399.9 1779.34,1396.8 1779.34,1424.8 1779.34,1406.1 1779.34,1415.3 1783.02,1396.8 1783.02,1380.5 1783.02,1399.9 1783.02,1422.1 1783.02,1399.9 1786.70,1412.8 1786.70,1409.1 1786.70,1390.4 1786.70,1396.8 1786.70,1409.1 1790.38,1386.7 1790.38,1399.9 1790.38,1419.3 1790.38,1399.9 1790.38,1406.1 1794.06,1431.0 1794.06,1396.8 1794.06,1403.0 1794.06,1387.6 1794.06,1406.1 1797.74,1393.1 1797.74,1393.7 1797.74,1399.9 1797.74,1427.3 1801.42,1425.8 1801.42,1403.0 1801.42,1421.5 1801.42,1365.7 1801.42,1424.5 1805.10,1418.4 1805.10,1443.6 1805.10,1395.9 1805.10,1421.5 1808.78,1434.7 1808.78,1383.6 1808.78,1396.8 1808.78,1406.1 1808.78,1396.8 1812.46,1380.5 1812.46,1412.2 1812.46,1406.1 1812.46,1415.3 1812.46,1422.1 1816.14,1409.1 1816.14,1424.8 1816.14,1395.9 1816.14,1406.1 1816.14,1396.8 1819.82,1421.5 1819.82,1412.2 1819.82,1393.1 1819.82,1431.0 1819.82,1409.1 1823.50,1408.5" fill="none" stroke="#515151" stroke-width="2.5" stroke-linejoin="bevel" shape-rendering="crispEdges"/>
<polyline points="351.50,1039.5 351.50,1048.5 351.50,1058.0 351.50,1023.2 351.50,1033.4 355.18,1048.8 355.18,1006.3 355.18,1039.5 355.18,1036.5 355.18,1057.7 358.86,1021.1 358.86,1022.3 358.86,1011.8 358.86,1027.2 358.86,1054.6 362.54,1008.7 362.54,1036.5 362.54,1066.6 362.54,1024.1 362.54,1016.4 366.22,1027.2 366.22,1078.7 366.22,1025.7 366.22,1039.5 366.22,1027.2 369.90,1036.5 369.90,1044.2 369.90,1027.2 369.90,1016.4 369.90,1033.4 373.58,1050.3 373.58,1021.1 373.58,1042.6 373.58,1003.2 377.26,1018.0 377.26,1033.4 377.26,1054.6 377.26,1054.9 377.26,1016.4 380.94,1022.3 380.94,1042.6 380.94,1050.3 380.94,1030.3 380.94,1027.2 384.62,1030.3 384.62,1043.2 384.62,1042.6 384.62,1030.3 384.62,1000.4 388.30,1008.7 388.30,1044.2 388.30,1008.7 388.30,1003.2 388.30,1018.0 391.98,1034.9 391.98,1018.0 391.98,996.4 391.98,953.9 391.98,1021.1 395.66,1036.5 395.66,1034.9 395.66,1036.5 395.66,1039.5 395.66,994.3 399.34,1000.4 399.34,1048.8 399.34,1021.1 399.34,1069.4 399.34,1048.8 403.02,1066.6 403.02,1030.3 403.02,1033.4 403.02,1054.9 403.02,1031.2 406.70,1054.9 406.70,1025.7 406.70,1045.7 406.70,1033.4 406.70,1057.7 410.38,1050.3 410.38,1033.4 410.38,1045.7 410.38,1037.7 410.38,1058.0 414.06,1050.3 414.06,1054.9 414.06,1006.3 414.06,1054.9 414.06,1045.7 417.74,1069.4 417.74,1048.8 417.74,1051.9 417.74,1048.8 417.74,1022.3 421.42,1016.4 421.42,1039.5 421.42,1065.7 421.42,1042.6 421.42,1048.8 425.10,1036.5 425.10,1057.7 425.10,1031.2 425.10,1054.9 425.10,1033.4 428.78,1027.2 428.78,1031.2 428.78,1045.7 428.78,1081.7 428.78,1036.5 432.46,1024.1 432.46,1028.8 432.46,1081.7 432.46,1051.9 432.46,1048.8 436.14,1025.7 436.14,1027.2 436.14,1030.3 436.14,1069.4 436.14,1033.4 439.82,1033.4 439.82,1057.7 439.82,1031.2 439.82,1036.5 439.82,1030.3 443.50,1018.0 443.50,1036.5 443.50,1066.6 443.50,1039.5 443.50,1028.8 447.18,1025.7 447.18,1078.7 447.18,1030.3 447.18,1033.4 450.86,1042.6 450.86,1036.5 450.86,1025.7 450.86,1050.3 450.86,1030.3 454.54,991.5 454.54,1033.4 454.54,1042.6 454.54,1054.6 454.54,1051.9 458.22,1058.0 458.22,1069.4 458.22,1064.2 458.22,1019.5 458.22,1048.8 461.90,1048.8 461.90,1027.2 461.90,1057.7 461.90,1022.3 465.58,1057.7 465.58,1061.1 465.58,1019.5 465.58,1058.0 465.58,1042.6 469.26,1030.3 469.26,1019.5 469.26,1027.2 469.26,1066.6 469.26,1054.9 472.94,1048.8 472.94,1031.2 472.94,1051.9 472.94,1066.6 476.62,1010.6 476.62,1073.1 476.62,1061.1 476.62,1054.9 480.30,1039.5 480.30,1051.9 480.30,1063.9 480.30,1010.6 483.98,1030.3 483.98,1051.9 483.98,1036.5 483.98,1025.7 483.98,1066.6 487.66,1091.3 487.66,1048.8 487.66,1013.4 487.66,1030.3 487.66,1054.9 491.34,1042.6 491.34,1050.3 491.34,1013.4 491.34,1039.5 491.34,1036.5 495.02,1019.5 495.02,1060.2 495.02,1045.7 495.02,1030.3 495.02,1042.6 498.70,1033.4 498.70,1044.2 498.70,1019.5 498.70,1024.1 498.70,1030.3 502.38,1054.6 502.38,1061.1 502.38,1054.9 502.38,1024.1 502.38,1019.5 506.06,1066.6 506.06,1051.9 506.06,1064.2 506.06,1027.2 506.06,1019.5 509.74,1054.6 509.74,1013.4 509.74,1014.9 509.74,1048.8 513.42,1028.8 513.42,1036.5 513.42,1045.7 513.42,1033.4 513.42,1063.9 517.10,1039.5 517.10,1078.7 517.10,1024.1 517.10,1000.4 517.10,1054.9 520.78,1054.6 520.78,1034.0 520.78,1045.7 520.78,1051.9 520.78,1058.0 524.46,1036.5 524.46,1042.6 524.46,1059.9 524.46,1040.5 524.46,1014.9 528.14,1027.2 528.14,1013.4 528.14,1078.7 528.14,1048.8 528.14,1042.6 531.82,1027.2 531.82,1006.3 531.82,1011.8 531.82,1059.9 531.82,1064.2 535.50,1045.7 535.50,1057.7 535.50,1064.2 535.50,1025.7 539.18,1042.6 539.18,1031.2 539.18,1024.1 539.18,1042.6 539.18,1066.6 542.86,1051.9 542.86,1027.2 542.86,1048.5 542.86,1025.7 542.86,1048.8 546.54,1069.4 546.54,1021.1 546.54,1036.5 546.54,1022.3 546.54,1033.4 550.22,1039.5 550.22,1031.2 550.22,1069.4 550.22,1045.7 550.22,1061.1 553.90,1027.2 553.90,1054.9 553.90,1003.2 553.90,1050.3 553.90,1021.1 557.58,1013.4 557.58,1018.0 557.58,1002.6 557.58,1046.6 561.26,1019.5 561.26,1033.4 561.26,1057.7 561.26,1024.1 561.26,1011.8 564.94,1035.3 564.94,994.3 564.94,1042.6 564.94,1004.3 568.62,974.4 568.62,941.6 568.62,1024.1 568.62,982.1 572.30,891.6 572.30,942.2 572.30,870.1 572.30,912.2 575.98,842.5 575.98,815.9 575.98,897.9 575.98,863.1 579.66,917.3 579.66,980.4 579.66,896.6 579.66,926.8 583.34,980.4 583.34,1039.5 583.34,948.4 583.34,977.7 587.02,1008.0 587.02,1054.9 587.02,997.7 587.02,1015.4 590.70,1006.3 590.70,1042.6 590.70,1045.7 590.70,1054.6 590.70,1002.6 594.38,1054.9 594.38,1013.4 594.38,1060.2 594.38,1054.9 594.38,1027.2 598.06,1075.6 598.06,1028.8 598.06,1014.9 598.06,1036.5 598.06,1030.3 601.74,1036.5 601.74,1054.9 601.74,1062.9 601.74,1027.2 601.74,1031.2 605.42,1039.5 605.42,1081.7 605.42,1048.8 605.42,1054.9 605.42,1037.7 609.10,1051.9 609.10,1050.3 609.10,1030.3 609.10,1051.9 609.10,1069.4 612.78,1045.7 612.78,1059.9 612.78,1046.6 612.78,1051.9 612.78,1036.5 616.46,1045.7 616.46,1059.9 616.46,1025.7 616.46,1045.7 616.46,1061.1 620.14,1045.7 620.14,1048.8 620.14,1062.9 620.14,1037.7 623.82,1045.7 623.82,1030.3 623.82,1075.6 623.82,1025.7 623.82,1045.7 627.50,1058.0 627.50,1033.4 627.50,1036.5 627.50,1060.2 627.50,1025.7 631.18,1061.1 631.18,1044.2 631.18,1063.9 631.18,1067.3 631.18,1048.8 634.86,1051.9 634.86,1034.0 634.86,1051.9 634.86,1062.9 634.86,1070.3 638.54,1054.6 638.54,1034.0 638.54,1058.0 638.54,1030.3 638.54,1039.5 642.22,1028.8 642.22,1042.6 642.22,1039.5 642.22,1033.4 642.22,1060.2 645.90,1097.4 645.90,1045.7 645.90,1039.5 645.90,1036.5 645.90,1034.0 649.58,1073.1 649.58,1064.2 649.58,1067.3 649.58,1022.3 649.58,1051.9 653.26,1064.2 653.26,1062.9 653.26,1067.3 653.26,1048.8 653.26,1034.0 656.94,1070.3 656.94,1048.8 656.94,1034.0 656.94,1078.7 656.94,1042.6 660.62,1063.9 660.62,1034.0 660.62,1036.5 660.62,1058.0 660.62,1048.8 664.30,1054.9 664.30,1028.8 664.30,1061.1 664.30,1097.4 664.30,1048.8 667.98,1054.6 667.98,1042.6 667.98,1061.1 667.98,1037.7 667.98,1045.7 671.66,1036.5 671.66,1022.3 671.66,1066.6 675.34,1040.5 675.34,1033.4 675.34,1042.6 675.34,1069.4 675.34,1045.7 679.02,1058.0 679.02,1073.1 679.02,1039.5 679.02,1058.0 679.02,1025.7 682.70,1030.3 682.70,1060.2 682.70,1031.2 682.70,1048.8 682.70,1067.3 686.38,1054.9 686.38,1047.5 686.38,1066.6 686.38,1048.8 686.38,1036.5 690.06,1043.5 690.06,1042.6 690.06,1062.9 690.06,1045.7 693.74,1054.6 693.74,1045.7 693.74,1039.5 693.74,1040.5 697.42,1016.4 697.42,1067.3 697.42,1045.7 697.42,1042.6 697.42,1081.7 701.10,1036.5 701.10,1073.1 701.10,1027.2 701.10,1025.7 701.10,1058.0 704.78,1039.5 704.78,1054.6 704.78,1022.3 704.78,1051.9 708.46,1073.1 708.46,1058.0 708.46,1045.7 708.46,1013.4 708.46,1045.7 712.14,1033.4 712.14,1066.6 712.14,1027.2 712.14,1037.7 712.14,1033.4 715.82,1013.4 715.82,1069.4 715.82,1045.7 715.82,1064.2 715.82,1030.3 719.50,1061.1 719.50,1028.8 719.50,1045.7 719.50,1060.2 719.50,1039.5 723.18,1060.2 723.18,1045.7 723.18,1054.9 723.18,1051.9 723.18,1031.2 726.86,1058.0 726.86,1048.8 726.86,1019.5 726.86,1048.8 726.86,1060.2 730.54,1066.6 730.54,1036.5 730.54,1061.1 730.54,1045.7 730.54,1016.4 734.22,1054.9 734.22,991.5 734.22,1048.8 734.22,1045.7 734.22,1057.7 737.90,1048.8 737.90,1036.5 737.90,1028.8 737.90,1060.2 737.90,1042.6 741.58,1061.1 741.58,1022.3 741.58,1030.3 741.58,1066.6 741.58,1033.4 745.26,1019.5 745.26,1073.1 745.26,1021.1 745.26,1036.5 745.26,1030.3 748.94,1018.0 748.94,1062.9 748.94,1036.5 748.94,1024.1 748.94,1030.3 752.62,1025.7 752.62,1048.5 752.62,1033.4 752.62,1054.9 752.62,1039.5 756.30,1057.7 756.30,1036.5 756.30,1051.9 756.30,1003.2 756.30,1045.7 759.98,1031.2 759.98,1018.0 759.98,1036.5 759.98,1060.2 759.98,1024.1 763.66,1037.7 763.66,1045.7 763.66,1048.8 763.66,1045.7 763.66,1054.6 767.34,1036.5 767.34,1027.2 767.34,1081.7 767.34,1013.4 767.34,1027.2 771.02,1024.1 771.02,1073.1 771.02,1028.8 771.02,1033.4 771.02,1018.0 774.70,1060.2 774.70,1016.4 774.70,1033.4 774.70,1042.6 774.70,1051.9 778.38,1022.3 778.38,1064.2 778.38,1057.7 778.38,1067.3 778.38,1064.2 782.06,1024.1 782.06,1042.6 782.06,1013.4 782.06,1033.4 782.06,1060.2 785.74,1006.3 785.74,1057.7 785.74,1030.3 785.74,1042.6 789.42,1051.9 789.42,1036.5 789.42,1073.1 789.42,1042.6 789.42,1031.2 793.10,1069.4 793.10,1042.6 793.10,1045.7 793.10,1028.8 793.10,1051.9 796.78,1028.8 796.78,1073.1 796.78,1054.9 796.78,1045.7 800.46,1060.2 800.46,1045.7 800.46,1051.9 800.46,1025.7 804.14,1036.5 804.14,1069.4 804.14,1031.2 804.14,1036.5 804.14,1030.3 807.82,1044.2 807.82,1036.5 807.82,1006.3 807.82,1030.3 807.82,1042.6 811.50,1030.3 811.50,1018.0 811.50,1000.4 811.50,1031.2 811.50,1061.1 815.18,1036.5 815.18,1033.4 815.18,1048.8 815.18,1013.4 815.18,1066.6 818.86,1048.8 818.86,1013.4 818.86,1021.1 818.86,1024.1 818.86,1044.2 822.54,1018.0 822.54,1031.2 822.54,1051.9 822.54,1016.4 822.54,1024.1 826.22,1030.3 826.22,1048.5 826.22,1022.3 826.22,1048.8 826.22,1030.3 829.90,1030.3 829.90,1051.9 829.90,1048.5 829.90,1010.6 833.58,1018.0 833.58,1033.1 833.58,991.5 833.58,1033.4 833.58,1058.0 837.26,1003.2 837.26,1018.0 837.26,1036.5 837.26,1054.6 837.26,1058.0 840.94,1010.6 840.94,1042.6 840.94,1024.1 840.94,1014.9 840.94,1028.8 844.62,1030.3 844.62,1051.9 844.62,1027.2 844.62,1025.7 844.62,997.3 848.30,1029.7 848.30,1005.7 848.30,1048.8 848.30,1054.9 848.30,969.0 851.98,1027.2 851.98,1054.6 851.98,1027.2 851.98,997.3 851.98,1039.5 855.66,1030.3 855.66,1002.6 855.66,1018.0 855.66,1024.1 855.66,1021.1 859.34,1027.2 859.34,1051.9 859.34,1039.5 859.34,1051.9 859.34,1002.6 863.02,985.6 863.02,1049.4 863.02,1005.7 863.02,1008.7 863.02,996.4 866.70,1043.2 866.70,1014.9 866.70,988.4 866.70,1005.7 866.70,1027.2 870.38,1010.6 870.38,1050.3 870.38,1018.0 870.38,1024.1 870.38,993.3 874.06,1011.8 874.06,1016.4 874.06,1014.9 874.06,1043.2 874.06,1011.8 877.74,1033.4 877.74,1010.6 877.74,999.5 877.74,1031.2 877.74,1018.0 881.42,1014.9 881.42,1024.1 881.42,982.6 881.42,1011.8 881.42,1044.2 885.10,1044.2 885.10,1027.2 885.10,985.6 885.10,1005.7 885.10,1027.2 888.78,991.5 888.78,1027.2 888.78,1042.6 888.78,1050.3 888.78,1024.1 892.46,1021.1 892.46,1014.9 892.46,1025.7 892.46,1048.8 892.46,972.7 896.14,1018.0 896.14,1050.3 896.14,982.6 896.14,1005.7 899.82,1038.6 899.82,1018.0 899.82,1010.6 899.82,1027.2 899.82,1018.0 903.50,1036.5 903.50,1014.9 903.50,1036.5 903.50,1054.6 903.50,1010.6 907.18,1038.6 907.18,1042.6 907.18,1013.4 907.18,1033.4 907.18,1045.7 910.86,1021.1 910.86,1010.6 910.86,1054.6 910.86,1018.0 910.86,1039.5 914.54,1066.6 914.54,1048.8 914.54,1051.9 914.54,1003.2 914.54,1045.7 918.22,1011.8 918.22,1066.6 918.22,1018.0 918.22,1034.9 918.22,1051.9 921.90,1022.3 921.90,1018.0 921.90,1057.7 921.90,1048.8 921.90,1033.4 925.58,1048.8 925.58,1033.4 925.58,1003.2 925.58,1045.7 925.58,1060.2 929.26,1028.8 929.26,1058.0 929.26,1016.4 929.26,1030.3 929.26,1048.8 932.94,1025.7 932.94,1027.2 932.94,1069.4 932.94,1021.1 932.94,1024.1 936.62,1019.5 936.62,1057.7 936.62,1045.7 936.62,1039.5 936.62,1042.6 940.30,1039.5 940.30,1022.3 940.30,1033.4 940.30,1050.3 940.30,1070.3 943.98,1069.4 943.98,1028.8 943.98,1036.5 943.98,1045.7 943.98,1042.6 947.66,1036.5 947.66,1033.4 947.66,1057.7 947.66,1051.9 947.66,1010.6 951.34,1051.9 951.34,1064.2 951.34,1006.3 951.34,1064.2 951.34,1057.7 955.02,1084.8 955.02,1047.5 955.02,1048.8 955.02,1061.1 955.02,1054.9 958.70,1027.2 958.70,1054.9 958.70,1048.8 958.70,1019.5 958.70,1050.3 962.38,1048.8 962.38,1073.1 962.38,1039.5 962.38,1013.4 962.38,1045.7 966.06,1054.9 966.06,1028.8 966.06,1027.2 966.06,1066.6 966.06,1033.4 969.74,1013.4 969.74,1051.9 969.74,1081.7 969.74,1051.9 969.74,1045.7 973.42,1022.3 973.42,1045.7 973.42,1081.7 973.42,1039.5 973.42,1036.5 977.10,1045.7 977.10,1047.5 977.10,1067.3 977.10,1064.2 977.10,1066.6 980.78,1047.5 980.78,1073.1 980.78,1051.9 980.78,1033.4 980.78,1045.7 984.46,1081.7 984.46,1016.4 984.46,1061.1 984.46,1051.9 984.46,1058.0 988.14,1045.7 988.14,1054.9 988.14,1073.1 988.14,1050.3 988.14,1030.3 991.82,1073.4 991.82,1043.5 991.82,1078.7 991.82,1054.9 991.82,1051.9 995.50,1073.1 995.50,1037.7 995.50,1030.3 995.50,1039.5 995.50,1030.3 999.18,1064.2 999.18,1066.6 999.18,1040.5 999.18,1076.5 999.18,1061.1 1002.86,1061.1 1002.86,1028.8 1002.86,1070.3 1002.86,1075.6 1002.86,1067.3 1006.54,1061.1 1006.54,1069.4 1006.54,1067.3 1006.54,1061.1 1006.54,1025.7 1010.22,1040.5 1010.22,1066.6 1010.22,1073.4 1010.22,1061.1 1013.90,1078.7 1013.90,1024.1 1013.90,1045.7 1013.90,1033.4 1013.90,1034.9 1017.58,1045.7 1017.58,1033.1 1017.58,1010.6 1017.58,1030.3 1017.58,1024.1 1021.26,1038.6 1021.26,1008.7 1021.26,999.5 1021.26,1011.8 1021.26,997.3 1024.94,999.5 1024.94,966.2 1024.94,1004.1 1024.94,1002.6 1024.94,996.4 1028.62,990.3 1028.62,972.7 1028.62,990.3 1028.62,1011.5 1028.62,1005.7 1032.30,1005.7 1032.30,1014.9 1032.30,997.3 1032.30,1024.1 1032.30,1033.1 1035.98,1028.8 1035.98,1018.0 1035.98,1066.6 1035.98,1039.5 1039.66,1061.1 1039.66,1073.1 1039.66,1049.4 1039.66,1042.6 1039.66,1061.1 1043.34,1058.0 1043.34,1054.9 1043.34,1037.7 1043.34,1075.6 1043.34,1054.9 1047.02,1075.6 1047.02,1070.3 1047.02,1064.2 1047.02,1053.1 1047.02,1082.7 1050.70,1040.5 1050.70,1070.3 1050.70,1073.4 1050.70,1081.7 1050.70,1061.1 1054.38,1064.2 1054.38,1058.0 1054.38,1067.3 1054.38,1087.9 1054.38,1049.4 1058.06,1061.1 1058.06,1058.0 1058.06,1046.6 1058.06,1073.1 1058.06,1067.3 1061.74,1062.9 1061.74,1058.0 1061.74,1031.2 1061.74,1064.2 1061.74,1045.7 1065.42,1040.5 1065.42,1058.0 1065.42,1067.3 1065.42,1084.8 1069.10,1054.9 1069.10,1053.1 1069.10,1091.3 1069.10,1061.1 1069.10,1045.7 1072.78,1056.8 1072.78,1076.5 1072.78,1078.7 1072.78,1070.3 1072.78,1045.7 1076.46,1061.1 1076.46,1049.4 1076.46,1051.9 1076.46,1091.3 1076.46,1076.5 1080.14,1073.1 1080.14,1088.8 1080.14,1054.6 1080.14,1088.8 1080.14,1067.3 1083.82,1076.5 1083.82,1067.3 1083.82,1073.4 1083.82,1058.0 1083.82,1056.8 1087.50,1082.7 1087.50,1067.3 1087.50,1043.5 1087.50,1064.2 1087.50,1091.3 1091.18,1062.0 1091.18,1054.9 1091.18,1081.7 1091.18,1067.3 1091.18,1042.6 1094.86,1064.2 1094.86,1043.5 1094.86,1091.3 1094.86,1048.8 1094.86,1042.6 1098.54,1078.7 1098.54,1079.6 1098.54,1076.5 1098.54,1048.8 1098.54,1043.5 1102.22,1078.7 1102.22,1079.6 1102.22,1019.5 1102.22,1079.6 1102.22,1051.9 1105.90,1081.7 1105.90,1075.6 1105.90,1082.7 1105.90,1067.3 1105.90,1053.1 1109.58,1067.3 1109.58,1061.1 1109.58,1049.4 1109.58,1054.9 1109.58,1094.7 1113.26,1073.4 1113.26,1079.3 1113.26,1079.6 1113.26,1034.0 1113.26,1064.2 1116.94,1064.2 1116.94,1070.3 1116.94,1087.3 1116.94,1053.1 1120.62,1073.4 1120.62,1091.3 1120.62,1073.4 1120.62,1043.5 1124.30,1049.4 1124.30,1091.3 1124.30,1046.6 1124.30,1067.3 1124.30,1051.9 1127.98,1048.8 1127.98,1091.3 1127.98,1073.4 1127.98,1054.9 1127.98,1040.5 1131.66,1079.6 1131.66,1062.0 1131.66,1054.9 1131.66,1087.3 1131.66,1061.1 1135.34,1082.0 1135.34,1040.5 1135.34,1073.4 1135.34,1054.9 1139.02,1078.7 1139.02,1076.5 1139.02,1046.6 1139.02,1064.2 1139.02,1045.7 1142.70,1091.3 1142.70,1073.4 1142.70,1043.5 1142.70,1076.5 1146.38,1081.7 1146.38,1053.1 1146.38,1088.8 1146.38,1054.9 1146.38,1067.3 1150.06,1079.6 1150.06,1049.4 1150.06,1079.6 1150.06,1076.5 1150.06,1078.7 1153.74,1040.5 1153.74,1064.2 1153.74,1070.3 1153.74,1081.7 1153.74,1067.3 1157.42,1085.7 1157.42,1075.6 1157.42,1067.3 1157.42,1088.8 1157.42,1043.5 1161.10,1084.8 1161.10,1056.8 1161.10,1061.1 1161.10,1073.4 1161.10,1070.3 1164.78,1091.3 1164.78,1061.1 1164.78,1028.5 1164.78,1051.9 1164.78,1079.6 1168.46,1059.3 1168.46,1084.8 1168.46,1064.2 1168.46,1073.4 1168.46,1070.3 1172.14,1073.4 1172.14,1065.7 1172.14,1067.3 1172.14,1078.7 1172.14,1073.4 1175.82,1067.3 1175.82,1053.1 1175.82,1081.7 1175.82,1058.0 1175.82,1073.4 1179.50,1076.5 1179.50,1067.3 1179.50,1059.3 1179.50,1073.4 1179.50,1071.3 1183.18,1070.3 1183.18,1073.4 1183.18,1053.1 1183.18,1094.7 1183.18,1070.3 1186.86,1067.3 1186.86,1075.6 1186.86,1079.6 1186.86,1070.3 1186.86,1040.5 1190.54,1061.1 1190.54,1037.7 1190.54,1070.3 1190.54,1081.7 1190.54,1073.4 1194.22,1082.7 1194.22,1034.0 1194.22,1084.8 1194.22,1079.6 1194.22,1073.4 1197.90,1073.4 1197.90,1067.3 1197.90,1074.7 1197.90,1037.7 1201.58,1084.8 1201.58,1043.5 1201.58,1058.0 1201.58,1067.3 1201.58,1064.2 1205.26,1094.7 1205.26,1070.3 1205.26,1043.5 1205.26,1073.4 1205.26,1054.9 1208.94,1061.1 1208.94,1069.4 1208.94,1058.0 1208.94,1053.1 1208.94,1058.0 1212.62,1074.7 1212.62,1051.9 1212.62,1067.3 1212.62,1064.2 1212.62,1049.4 1216.30,1064.2 1216.30,1058.0 1216.30,1040.5 1216.30,1058.0 1216.30,1091.3 1219.98,1094.7 1219.98,1048.8 1219.98,1058.0 1219.98,1043.5 1223.66,1070.3 1223.66,1064.2 1223.66,1079.6 1223.66,1091.3 1223.66,1056.8 1227.34,1056.8 1227.34,1058.0 1227.34,1084.8 1227.34,1076.5 1227.34,1067.3 1231.02,1064.2 1231.02,1097.4 1231.02,1088.8 1231.02,1062.0 1231.02,1085.7 1234.70,1087.3 1234.70,1061.1 1234.70,1064.2 1234.70,1056.8 1234.70,1064.2 1238.38,1067.3 1238.38,1037.7 1238.38,1071.3 1238.38,1073.4 1238.38,1085.7 1242.06,1097.4 1242.06,1076.5 1242.06,1061.1 1242.06,1051.9 1242.06,1046.6 1245.74,1070.3 1245.74,1043.5 1245.74,1082.0 1245.74,1051.9 1245.74,1061.1 1249.42,1070.3 1249.42,1076.5 1249.42,1071.3 1249.42,1046.6 1249.42,1067.3 1253.10,1064.2 1253.10,1091.3 1253.10,1040.5 1253.10,1070.3 1256.78,1046.6 1256.78,1064.2 1256.78,1085.7 1256.78,1084.8 1256.78,1073.4 1260.46,1079.6 1260.46,1031.2 1260.46,1073.4 1260.46,1045.7 1260.46,1078.3 1264.14,1058.0 1264.14,1046.6 1264.14,1054.9 1264.14,1075.6 1264.14,1070.3 1267.82,1081.7 1267.82,1073.4 1267.82,1064.2 1267.82,1053.1 1267.82,1061.1 1271.50,1043.5 1271.50,1079.6 1271.50,1061.1 1271.50,1078.7 1271.50,1058.0 1275.18,1081.7 1275.18,1040.5 1275.18,1039.5 1275.18,1064.2 1275.18,1039.5 1278.86,1054.9 1278.86,1043.5 1278.86,1039.5 1278.86,1091.3 1278.86,1064.2 1282.54,1039.5 1282.54,1058.6 1282.54,1024.1 1282.54,1034.0 1282.54,1036.5 1286.22,1005.7 1286.22,1002.6 1286.22,1018.0 1286.22,1075.6 1289.90,1030.3 1289.90,1027.2 1289.90,1054.6 1289.90,991.5 1289.90,1030.3 1293.58,1048.5 1293.58,1024.1 1293.58,1019.5 1293.58,1021.1 1293.58,1042.6 1297.26,1022.3 1297.26,1054.9 1297.26,1069.4 1297.26,1073.4 1300.94,1078.7 1300.94,1061.1 1300.94,1034.0 1300.94,1082.7 1300.94,1058.0 1304.62,1042.6 1304.62,1067.3 1304.62,1043.5 1304.62,1042.6 1304.62,1074.7 1308.30,1056.8 1308.30,1081.7 1308.30,1076.5 1308.30,1070.3 1311.98,1049.4 1311.98,1076.5 1311.98,1073.4 1311.98,1069.4 1311.98,1070.3 1315.66,1048.8 1315.66,1049.4 1315.66,1072.5 1315.66,1042.6 1315.66,1058.0 1319.34,1072.5 1319.34,1073.4 1319.34,1070.3 1319.34,1058.0 1319.34,1062.9 1323.02,1048.8 1323.02,1059.3 1323.02,1078.7 1323.02,1073.4 1323.02,1045.7 1326.70,1043.5 1326.70,1051.9 1326.70,1054.9 1326.70,1091.3 1326.70,1061.1 1330.38,1070.3 1330.38,1073.4 1330.38,1019.5 1330.38,1091.3 1330.38,1051.9 1334.06,1091.3 1334.06,1064.2 1334.06,1037.7 1334.06,1088.8 1334.06,1079.6 1337.74,1091.3 1337.74,1082.7 1337.74,1088.8 1337.74,1085.7 1337.74,1062.9 1341.42,1048.8 1341.42,1037.7 1341.42,1097.4 1341.42,1085.7 1341.42,1054.9 1345.10,1056.8 1345.10,1084.8 1345.10,1070.3 1345.10,1054.9 1345.10,1058.0 1348.78,1037.7 1348.78,1067.3 1348.78,1076.5 1348.78,1073.4 1348.78,1084.8 1352.46,1094.7 1352.46,1056.8 1352.46,1058.0 1352.46,1061.1 1352.46,1064.2 1356.14,1053.1 1356.14,1079.6 1356.14,1054.9 1356.14,1084.8 1356.14,1070.3 1359.82,1076.5 1359.82,1031.2 1359.82,1088.8 1359.82,1082.7 1359.82,1088.8 1363.50,1070.3 1363.50,1081.7 1363.50,1040.5 1363.50,1073.4 1367.18,1046.6 1367.18,1076.5 1367.18,1070.3 1367.18,1082.7 1367.18,1106.4 1370.86,1078.7 1370.86,1048.8 1370.86,1051.9 1370.86,1034.0 1370.86,1073.4 1374.54,1064.2 1374.54,1070.3 1374.54,1078.7 1374.54,1056.8 1374.54,1073.4 1378.22,1087.9 1378.22,1067.3 1378.22,1053.1 1378.22,1079.6 1378.22,1088.8 1381.90,1061.1 1381.90,1064.2 1381.90,1054.9 1381.90,1053.1 1381.90,1081.7 1385.58,1085.7 1385.58,1067.3 1385.58,1065.7 1385.58,1054.9 1385.58,1087.9 1389.26,1084.8 1389.26,1056.8 1389.26,1064.2 1389.26,1088.8 1389.26,1085.7 1392.94,1076.5 1392.94,1081.7 1392.94,1058.0 1392.94,1049.4 1392.94,1067.3 1396.62,1073.4 1396.62,1067.3 1396.62,1043.5 1396.62,1084.8 1400.30,1062.0 1400.30,1076.5 1400.30,1051.9 1400.30,1076.5 1400.30,1067.3 1403.98,1081.7 1403.98,1058.0 1403.98,1067.3 1403.98,1064.2 1403.98,1049.4 1407.66,1056.8 1407.66,1064.2 1407.66,1073.4 1407.66,1081.7 1407.66,1073.4 1411.34,1059.3 1411.34,1067.3 1411.34,1076.5 1411.34,1091.3 1415.02,1084.8 1415.02,1053.1 1415.02,1073.4 1415.02,1088.8 1415.02,1073.4 1418.70,1073.4 1418.70,1067.3 1418.70,1053.1 1418.70,1051.9 1418.70,1087.3 1422.38,1047.5 1422.38,1091.3 1422.38,1088.8 1422.38,1076.5 1426.06,1070.3 1426.06,1075.6 1426.06,1049.4 1426.06,1048.8 1426.06,1070.3 1429.74,1079.6 1429.74,1073.4 1429.74,1091.3 1429.74,1065.7 1429.74,1073.4 1433.42,1073.4 1433.42,1084.8 1433.42,1059.3 1433.42,1067.3 1433.42,1045.7 1437.10,1079.6 1437.10,1070.3 1437.10,1059.3 1437.10,1045.7 1437.10,1097.4 1440.78,1082.7 1440.78,1091.3 1440.78,1064.2 1440.78,1073.4 1440.78,1065.7 1444.46,1061.1 1444.46,1081.7 1444.46,1061.1 1444.46,1059.3 1444.46,1051.9" fill="none" stroke="#F14040" stroke-width="2" stroke-linejoin="bevel" shape-rendering="crispEdges"/>
<polyline points="1444.46,1051.9 1448.14,1049.4 1448.14,1042.6 1448.14,1045.7 1448.14,1103.6 1448.14,1054.9 1451.82,1084.8 1451.82,1051.9 1451.82,1056.8 1451.82,1045.7 1455.50,1045.7 1455.50,1084.8 1455.50,1048.8 1455.50,1053.1 1455.50,1042.6 1459.18,1070.3 1459.18,1056.8 1459.18,1051.9 1459.18,1076.5 1459.18,1067.3 1462.86,1087.9 1462.86,1085.7 1462.86,1079.6 1462.86,1062.9 1462.86,1073.4 1466.54,1087.3 1466.54,1061.1 1466.54,1059.3 1466.54,1051.9 1466.54,1061.1 1470.22,1082.7 1470.22,1034.0 1470.22,1054.9 1470.22,1042.6 1470.22,1094.7 1473.90,1073.4 1473.90,1085.7 1473.90,1087.9 1473.90,1061.1 1473.90,1059.3 1477.58,1064.2 1477.58,1091.3 1477.58,1047.5 1477.58,1058.0 1481.26,1091.3 1481.26,1053.1 1481.26,1067.3 1481.26,1085.7 1481.26,1048.8 1484.94,1070.3 1484.94,1081.7 1484.94,1076.5 1484.94,1049.4 1484.94,1061.1 1488.62,1067.3 1488.62,1064.2 1488.62,1078.7 1488.62,1056.8 1492.30,1022.3 1492.30,1030.3 1492.30,1061.1 1492.30,1075.6 1492.30,1042.6 1495.98,1069.4 1495.98,1034.6 1495.98,1058.0 1495.98,1034.0 1499.66,1038.6 1499.66,1019.5 1499.66,1011.8 1499.66,1033.4 1499.66,1019.5 1503.34,1021.1 1503.34,1034.9 1503.34,988.4 1503.34,1036.5 1503.34,1034.9 1507.02,1030.3 1507.02,1057.7 1507.02,1022.3 1507.02,1039.5 1507.02,1054.9 1510.70,1065.7 1510.70,1033.4 1510.70,1016.4 1510.70,1030.3 1510.70,1048.8 1514.38,1042.6 1514.38,1094.7 1514.38,1028.8 1514.38,1061.1 1514.38,1045.7 1518.06,1064.2 1518.06,1074.7 1518.06,1058.0 1518.06,1054.9 1518.06,1047.5 1521.74,1084.8 1521.74,1073.4 1521.74,1043.5 1521.74,1058.0 1521.74,1070.3 1525.42,1045.7 1525.42,1048.8 1525.42,1040.5 1525.42,1074.7 1525.42,1076.5 1529.10,1079.6 1529.10,1091.3 1529.10,1054.9 1529.10,1050.3 1529.10,1082.7 1532.78,1040.5 1532.78,1045.7 1532.78,1087.9 1532.78,1076.5 1532.78,1061.1 1536.46,1067.3 1536.46,1059.3 1536.46,1103.6 1536.46,1085.7 1536.46,1082.7 1540.14,1040.5 1540.14,1061.1 1540.14,1087.9 1540.14,1061.1 1540.14,1045.7 1543.82,1073.4 1543.82,1053.1 1543.82,1051.9 1543.82,1054.9 1543.82,1087.9 1547.50,1047.5 1547.50,1073.4 1547.50,1070.3 1547.50,1067.3 1547.50,1081.7 1551.18,1073.4 1551.18,1069.4 1551.18,1070.3 1551.18,1031.2 1551.18,1064.2 1554.86,1079.6 1554.86,1043.5 1554.86,1067.3 1554.86,1079.6 1554.86,1081.7 1558.54,1056.8 1558.54,1064.2 1558.54,1097.4 1558.54,1085.7 1558.54,1076.5 1562.22,1051.9 1562.22,1070.3 1562.22,1069.4 1562.22,1037.7 1562.22,1054.9 1565.90,1076.5 1565.90,1067.3 1565.90,1043.5 1565.90,1078.7 1565.90,1076.5 1569.58,1075.6 1569.58,1073.4 1569.58,1061.1 1569.58,1079.6 1569.58,1049.4 1573.26,1091.3 1573.26,1053.1 1573.26,1061.1 1573.26,1070.3 1573.26,1073.4 1576.94,1084.8 1576.94,1053.1 1576.94,1067.3 1576.94,1070.3 1576.94,1064.2 1580.62,1094.7 1580.62,1049.4 1580.62,1061.1 1580.62,1058.0 1580.62,1054.9 1584.30,1051.9 1584.30,1048.8 1584.30,1043.5 1584.30,1054.9 1584.30,1078.7 1587.98,1034.0 1587.98,1070.3 1587.98,1061.1 1587.98,1078.7 1587.98,1070.3 1591.66,1060.5 1591.66,1050.3 1591.66,1084.8 1591.66,1060.6 1595.34,1083.0 1595.34,1046.9 1595.34,1094.4 1595.34,1061.3 1599.02,1061.8 1599.02,1042.9 1599.02,1073.4 1599.02,1057.1 1602.70,1051.3 1602.70,1034.0 1602.70,1079.0 1602.70,1058.4 1606.38,1038.5 1606.38,1075.0 1606.38,1028.1 1606.38,1062.8 1610.06,1046.1 1610.06,1091.6 1610.06,1031.5 1610.06,1059.8 1613.74,1050.0 1613.74,1019.2 1613.74,1057.7 1613.74,1040.8 1617.42,1032.4 1617.42,1054.3 1617.42,1013.1 1617.42,1045.6 1621.10,1007.8 1621.10,988.1 1621.10,1041.4 1621.10,1006.4 1624.78,1001.9 1624.78,975.8 1624.78,1018.0 1624.78,1010.0 1628.46,957.1 1628.46,979.8 1628.46,917.3 1628.46,943.1 1632.14,957.3 1632.14,966.2 1632.14,929.6 1632.14,936.5 1635.82,940.1 1635.82,967.8 1635.82,899.1 1635.82,921.2 1639.50,962.7 1639.50,917.3 1639.50,1001.7 1639.50,950.2 1643.18,991.2 1643.18,1014.6 1643.18,969.0 1643.18,989.4 1646.86,1036.6 1646.86,1044.2 1646.86,1000.1 1646.86,1007.2 1650.54,1027.9 1650.54,1038.9 1650.54,996.7 1650.54,1008.2 1654.22,1057.0 1654.22,1034.0 1654.22,1066.6 1654.22,1048.2 1657.90,1059.2 1657.90,1042.9 1657.90,1065.4 1657.90,1049.6 1661.58,1035.7 1661.58,1022.0 1661.58,1070.0 1661.58,1062.6 1665.26,1057.8 1665.26,1006.3 1665.26,1070.0 1665.26,1050.7 1668.94,1059.4 1668.94,1028.1 1668.94,1073.4 1668.94,1036.0 1672.62,1063.8 1672.62,1081.4 1672.62,1022.0 1672.62,1031.4 1676.30,1048.9 1676.30,1024.8 1676.30,1067.3 1676.30,1040.4 1679.98,1054.0 1679.98,1042.9 1679.98,1081.4 1679.98,1062.1 1683.66,1048.8 1683.66,1069.4 1683.66,1058.0 1683.66,1028.8 1683.66,1058.0 1687.34,1081.7 1687.34,1061.1 1687.34,1067.3 1687.34,1048.8 1687.34,1049.4 1691.02,1054.9 1691.02,1045.7 1691.02,1091.3 1691.02,1053.1 1691.02,1039.5 1694.70,1062.9 1694.70,1034.6 1694.70,1076.5 1694.70,1064.2 1694.70,1067.3 1698.38,1078.7 1698.38,1064.2 1698.38,1073.4 1698.38,1070.3 1698.38,1040.5 1702.06,1064.2 1702.06,1078.7 1702.06,1082.7 1702.06,1047.5 1702.06,1061.1 1705.74,1059.3 1705.74,1058.0 1705.74,1073.1 1705.74,1076.5 1705.74,1045.7 1709.42,1054.9 1709.42,1053.1 1709.42,1045.7 1709.42,1054.9 1709.42,1069.4 1713.10,1061.1 1713.10,1049.4 1713.10,1078.7 1713.10,1039.5 1713.10,1051.9 1716.78,1049.4 1716.78,1076.5 1716.78,1078.7 1716.78,1064.2 1716.78,1079.6 1720.46,1058.0 1720.46,1059.3 1720.46,1078.7 1720.46,1067.3 1720.46,1082.7 1724.14,1053.1 1724.14,1067.3 1724.14,1076.5 1724.14,1081.7 1724.14,1073.4 1727.82,1078.7 1727.82,1053.1 1727.82,1070.3 1727.82,1051.9 1727.82,1073.4 1731.50,1054.9 1731.50,1073.4 1731.50,1067.3 1731.50,1058.6 1731.50,1069.4 1735.18,1069.4 1735.18,1067.3 1735.18,1049.4 1735.18,1058.0 1735.18,1064.2 1738.86,1040.5 1738.86,1075.6 1738.86,1079.6 1738.86,1073.4 1738.86,1067.3 1742.54,1031.2 1742.54,1061.1 1742.54,1048.8 1742.54,1054.9 1742.54,1078.7 1746.22,1044.2 1746.22,1021.1 1746.22,1048.8 1746.22,1003.2 1749.90,1050.3 1749.90,1045.7 1749.90,1022.3 1749.90,1008.7 1749.90,1039.5 1753.58,985.3 1753.58,1027.2 1753.58,1036.5 1753.58,1050.3 1757.26,1016.4 1757.26,1045.7 1757.26,1051.9 1757.26,1038.6 1757.26,1036.5 1760.94,1042.6 1760.94,1061.1 1760.94,1028.8 1760.94,1072.5 1764.62,1045.7 1764.62,1037.7 1764.62,1045.7 1764.62,1067.3 1764.62,1069.4 1768.30,1070.3 1768.30,1072.5 1768.30,1037.7 1768.30,1064.2 1768.30,1070.3 1771.98,1064.2 1771.98,1073.4 1771.98,1075.6 1771.98,1070.3 1771.98,1053.1 1775.66,1037.7 1775.66,1064.2 1775.66,1073.4 1775.66,1097.4 1775.66,1073.4 1779.34,1084.8 1779.34,1043.5 1779.34,1061.1 1779.34,1073.4 1779.34,1076.5 1783.02,1064.2 1783.02,1059.3 1783.02,1084.8 1783.02,1070.3 1783.02,1064.2 1786.70,1076.5 1786.70,1070.3 1786.70,1059.3 1786.70,1073.4 1786.70,1087.9 1790.38,1056.8 1790.38,1085.7 1790.38,1073.4 1790.38,1082.7 1790.38,1075.6 1794.06,1073.4 1794.06,1091.3 1794.06,1076.5 1794.06,1068.5 1794.06,1079.6 1797.74,1091.9 1797.74,1056.8 1797.74,1091.9 1797.74,1081.7 1797.74,1088.8 1801.42,1085.7 1801.42,1049.4 1801.42,1088.8 1801.42,1081.7 1805.10,1088.8 1805.10,1056.8 1805.10,1073.1 1805.10,1070.3 1808.78,1073.4 1808.78,1097.4 1808.78,1053.1 1808.78,1088.8 1808.78,1070.3 1812.46,1079.6 1812.46,1094.7 1812.46,1059.3 1812.46,1095.0 1812.46,1088.8 1816.14,1062.9 1816.14,1085.7 1816.14,1087.9 1816.14,1082.7 1819.82,1087.9 1819.82,1088.8 1819.82,1062.0 1819.82,1104.2 1819.82,1095.0 1823.50,1095.3" fill="none" stroke="#F14040" stroke-width="2.5" stroke-linejoin="bevel" shape-rendering="crispEdges"/>
<polyline points="351.50,753.1 351.50,750.3 351.50,746.9 351.50,737.7 351.50,772.8 355.18,765.4 355.18,775.6 355.18,737.7 355.18,746.9 355.18,753.1 358.86,725.7 358.86,725.4 358.86,748.5 358.86,762.3 362.54,766.7 362.54,737.7 362.54,719.5 362.54,737.7 362.54,746.9 366.22,740.8 366.22,778.7 366.22,759.3 366.22,722.3 366.22,765.4 369.90,757.7 369.90,750.0 369.90,734.6 369.90,728.8 369.90,750.0 373.58,740.5 373.58,782.4 373.58,765.4 373.58,762.3 373.58,743.9 377.26,737.7 377.26,769.4 377.26,728.2 377.26,725.4 377.26,719.2 380.94,728.2 380.94,759.3 380.94,769.4 380.94,728.5 380.94,731.5 384.62,731.5 384.62,757.7 384.62,737.7 384.62,734.6 384.62,740.5 388.30,713.1 388.30,710.6 388.30,744.2 388.30,722.3 388.30,725.4 391.98,727.8 391.98,691.5 391.98,703.8 395.66,691.5 395.66,722.3 395.66,738.6 395.66,728.5 399.34,728.5 399.34,740.8 399.34,751.3 399.34,725.4 399.34,713.4 403.02,722.3 403.02,716.1 403.02,719.2 403.02,782.4 403.02,713.1 406.70,728.2 406.70,722.3 406.70,760.2 406.70,728.5 406.70,743.9 410.38,743.9 410.38,728.5 410.38,778.7 410.38,740.8 410.38,743.6 414.06,743.6 414.06,740.8 414.06,757.7 414.06,765.4 414.06,716.1 417.74,731.2 417.74,719.2 417.74,725.4 417.74,760.2 417.74,728.5 421.42,759.3 421.42,734.0 421.42,750.0 421.42,760.2 425.10,778.7 425.10,765.4 425.10,750.0 425.10,722.3 425.10,756.2 428.78,722.3 428.78,740.8 428.78,753.1 428.78,743.9 428.78,760.2 432.46,731.2 432.46,743.9 432.46,746.9 432.46,756.2 432.46,763.0 436.14,746.9 436.14,737.7 436.14,754.6 436.14,750.0 436.14,743.9 439.82,725.4 439.82,719.5 439.82,734.6 439.82,757.7 439.82,719.2 443.50,746.9 443.50,703.2 443.50,743.9 443.50,737.7 443.50,778.7 447.18,782.4 447.18,734.6 447.18,737.7 447.18,746.9 447.18,713.4 450.86,722.3 450.86,737.7 450.86,778.7 450.86,743.9 450.86,731.5 454.54,778.7 454.54,746.9 454.54,743.6 454.54,753.1 454.54,734.6 458.22,782.4 458.22,740.5 458.22,746.9 458.22,762.3 458.22,759.3 461.90,737.7 461.90,763.9 461.90,722.3 461.90,765.4 461.90,743.9 465.58,737.7 465.58,750.0 465.58,706.3 465.58,716.1 465.58,760.2 469.26,737.7 469.26,743.9 469.26,734.6 469.26,725.7 469.26,757.7 472.94,769.4 472.94,753.1 472.94,759.3 472.94,731.5 472.94,728.8 476.62,710.6 476.62,746.9 476.62,763.0 476.62,740.8 476.62,756.2 480.30,772.5 480.30,731.2 480.30,750.0 480.30,740.8 480.30,750.0 483.98,743.9 483.98,725.7 483.98,769.4 483.98,731.5 483.98,743.9 487.66,766.7 487.66,719.5 487.66,750.0 487.66,765.4 491.34,760.2 491.34,716.4 491.34,765.4 491.34,725.4 491.34,737.7 495.02,746.9 495.02,725.7 495.02,759.3 495.02,763.9 495.02,765.4 498.70,740.8 498.70,731.2 498.70,725.4 498.70,728.5 498.70,766.7 502.38,743.9 502.38,716.4 502.38,778.7 502.38,728.5 502.38,734.6 506.06,750.0 506.06,734.6 506.06,753.1 506.06,706.3 506.06,760.2 509.74,750.0 509.74,697.4 509.74,737.7 509.74,785.1 509.74,743.9 513.42,725.7 513.42,737.7 513.42,743.9 513.42,740.8 513.42,772.5 517.10,737.7 517.10,731.5 517.10,728.8 517.10,775.6 517.10,756.2 520.78,743.9 520.78,747.6 520.78,716.1 520.78,760.2 520.78,716.1 524.46,743.9 524.46,750.0 524.46,746.9 524.46,682.6 524.46,766.7 528.14,750.0 528.14,734.6 528.14,757.7 528.14,719.5 528.14,753.1 531.82,740.8 531.82,734.6 531.82,716.4 531.82,734.6 531.82,751.3 535.50,731.5 535.50,757.7 535.50,731.5 535.50,725.4 535.50,719.5 539.18,760.2 539.18,743.9 539.18,740.8 539.18,746.9 539.18,716.4 542.86,754.6 542.86,740.8 542.86,746.9 542.86,716.4 546.54,722.3 546.54,734.0 546.54,734.6 546.54,743.9 546.54,778.7 550.22,719.5 550.22,722.3 550.22,725.4 550.22,760.2 550.22,743.9 553.90,754.6 553.90,728.8 553.90,731.5 553.90,737.7 553.90,750.0 557.58,710.8 557.58,697.4 557.58,746.9 557.58,709.2 561.26,757.7 561.26,737.7 561.26,728.8 561.26,725.4 561.26,737.7 564.94,704.6 564.94,681.3 564.94,737.7 564.94,707.3 568.62,661.8 568.62,683.5 568.62,645.6 568.62,670.2 572.30,610.9 572.30,540.3 572.30,641.0 572.30,587.7 575.98,591.0 575.98,600.9 575.98,564.9 575.98,586.1 579.66,645.8 579.66,608.3 579.66,689.0 579.66,668.9 583.34,712.3 583.34,743.9 583.34,692.7 583.34,703.8 587.02,719.5 587.02,667.5 587.02,746.9 587.02,698.8 590.70,725.4 590.70,738.6 590.70,728.5 590.70,694.3 594.38,728.5 594.38,731.5 594.38,734.6 594.38,760.2 594.38,713.4 598.06,737.7 598.06,734.9 598.06,703.2 598.06,753.1 601.74,743.9 601.74,713.4 601.74,746.9 601.74,725.4 601.74,766.7 605.42,725.4 605.42,785.1 605.42,734.6 605.42,703.2 605.42,710.0 609.10,725.7 609.10,734.6 609.10,760.2 609.10,734.6 609.10,740.8 612.78,737.7 612.78,713.4 612.78,744.2 612.78,722.3 616.46,737.7 616.46,725.4 616.46,731.5 616.46,728.5 616.46,778.7 620.14,716.1 620.14,731.5 620.14,737.7 620.14,769.4 620.14,706.3 623.82,760.2 623.82,725.7 623.82,710.0 623.82,737.7 623.82,750.0 627.50,725.4 627.50,740.8 627.50,763.9 627.50,713.4 627.50,740.8 631.18,757.7 631.18,753.1 631.18,728.5 631.18,753.1 631.18,701.7 634.86,760.2 634.86,719.2 634.86,737.7 634.86,734.6 634.86,713.4 638.54,737.7 638.54,744.2 638.54,737.7 638.54,731.5 638.54,716.4 642.22,746.9 642.22,772.5 642.22,740.8 642.22,731.2 642.22,722.3 645.90,769.4 645.90,722.3 645.90,716.1 645.90,743.9 645.90,710.0 649.58,722.3 649.58,719.2 649.58,722.3 649.58,772.5 649.58,719.5 653.26,719.5 653.26,725.4 653.26,756.2 653.26,710.0 653.26,763.0 656.94,743.9 656.94,725.4 656.94,716.4 656.94,716.1 656.94,763.9 660.62,728.2 660.62,740.8 660.62,725.4 660.62,754.6 660.62,753.1 664.30,722.3 664.30,760.2 664.30,719.2 664.30,737.7 664.30,740.8 667.98,710.6 667.98,754.6 667.98,728.5 667.98,725.4 671.66,737.7 671.66,743.9 671.66,754.6 671.66,725.4 671.66,697.4 675.34,716.4 675.34,743.9 675.34,734.6 675.34,748.5 675.34,743.9 679.02,778.7 679.02,722.3 679.02,731.5 679.02,734.6 679.02,740.8 682.70,716.4 682.70,734.6 682.70,743.9 682.70,797.5 682.70,725.4 686.38,710.6 686.38,751.3 686.38,734.6 686.38,740.8 690.06,753.1 690.06,754.6 690.06,719.5 690.06,710.0 690.06,737.7 693.74,703.2 693.74,737.7 693.74,746.9 693.74,750.0 693.74,744.2 697.42,778.7 697.42,713.4 697.42,734.6 697.42,731.5 701.10,754.6 701.10,731.5 701.10,737.7 701.10,734.6 701.10,740.5 704.78,682.6 704.78,737.7 704.78,757.7 704.78,737.7 708.46,722.3 708.46,760.2 708.46,697.4 708.46,710.0 712.14,731.5 712.14,734.6 712.14,697.4 712.14,751.3 712.14,734.6 715.82,734.6 715.82,731.2 715.82,769.4 715.82,740.8 715.82,722.3 719.50,719.2 719.50,757.7 719.50,725.7 719.50,725.4 719.50,734.6 723.18,753.1 723.18,722.3 723.18,744.2 723.18,750.0 723.18,722.3 726.86,737.7 726.86,772.5 726.86,762.3 726.86,703.2 726.86,719.2 730.54,753.1 730.54,706.6 730.54,756.5 730.54,731.5 730.54,740.8 734.22,725.1 734.22,737.7 734.22,725.4 734.22,725.7 734.22,756.5 737.90,734.6 737.90,730.3 737.90,750.3 737.90,734.6 737.90,751.3 741.58,744.5 741.58,710.6 741.58,709.7 741.58,725.4 741.58,722.3 745.26,743.9 745.26,763.0 745.26,715.5 745.26,756.2 745.26,762.3 748.94,734.6 748.94,725.4 748.94,743.9 748.94,687.5 748.94,754.0 752.62,728.5 752.62,685.3 752.62,765.7 752.62,731.5 756.30,728.5 756.30,685.3 756.30,746.9 756.30,728.5 756.30,759.3 759.98,740.8 759.98,728.5 759.98,718.6 759.98,734.6 759.98,747.6 763.66,772.5 763.66,728.5 763.66,706.6 763.66,746.9 767.34,734.0 767.34,722.3 767.34,716.1 767.34,728.5 767.34,706.6 771.02,719.2 771.02,737.7 771.02,703.2 771.02,734.0 771.02,722.3 774.70,737.7 774.70,712.4 774.70,754.0 774.70,722.3 774.70,716.1 778.38,700.4 778.38,753.1 778.38,754.0 778.38,725.4 778.38,750.0 782.06,750.0 782.06,721.4 782.06,741.4 782.06,737.7 782.06,710.0 785.74,734.6 785.74,703.2 785.74,738.6 785.74,740.8 785.74,737.7 789.42,700.4 789.42,747.6 789.42,746.9 789.42,728.5 789.42,737.7 793.10,746.9 793.10,703.2 793.10,744.5 793.10,740.8 793.10,756.2 796.78,743.9 796.78,756.5 796.78,712.4 796.78,756.2 796.78,725.4 800.46,741.4 800.46,725.4 800.46,740.8 800.46,676.1 800.46,740.8 804.14,754.0 804.14,722.3 804.14,740.8 804.14,734.6 804.14,691.5 807.82,728.5 807.82,731.5 807.82,718.6 807.82,716.1 807.82,732.2 811.50,725.4 811.50,703.8 811.50,728.5 811.50,725.4 811.50,709.7 815.18,744.5 815.18,719.2 815.18,716.1 815.18,696.4 815.18,722.3 818.86,691.5 818.86,738.6 818.86,746.9 818.86,740.8 822.54,722.3 822.54,719.2 822.54,687.5 822.54,703.8 822.54,747.6 826.22,703.8 826.22,738.6 826.22,725.4 826.22,669.9 826.22,700.7 829.90,713.1 829.90,725.4 829.90,750.3 829.90,685.3 829.90,706.9 833.58,725.1 833.58,737.7 833.58,672.4 833.58,737.7 833.58,710.0 837.26,728.5 837.26,693.3 837.26,716.1 837.26,725.4 837.26,728.5 840.94,696.4 840.94,734.0 840.94,700.7 840.94,685.3 840.94,688.4 844.62,738.6 844.62,713.1 844.62,706.9 844.62,694.6 844.62,672.4 848.30,700.4 848.30,694.6 848.30,732.2 848.30,697.7 848.30,703.8 851.98,732.2 851.98,667.2 851.98,722.3 851.98,737.7 851.98,719.2 855.66,713.1 855.66,700.7 855.66,688.4 855.66,740.8 855.66,682.3 859.34,719.2 859.34,667.2 859.34,703.8 859.34,706.9 859.34,719.2 863.02,693.3 863.02,694.6 863.02,703.8 863.02,759.3 863.02,710.0 866.70,691.5 866.70,703.8 866.70,682.3 866.70,725.1 866.70,700.7 870.38,728.5 870.38,662.5 870.38,722.3 870.38,734.9 870.38,682.3 874.06,696.4 874.06,716.1 874.06,698.0 874.06,706.9 874.06,737.7 877.74,710.0 877.74,706.6 877.74,700.7 877.74,725.1 877.74,737.7 881.42,706.6 881.42,747.6 881.42,688.4 881.42,685.3 881.42,722.3 885.10,732.2 885.10,700.4 885.10,703.8 885.10,737.7 885.10,713.1 888.78,693.3 888.78,754.0 888.78,706.9 888.78,728.5 888.78,743.9 892.46,713.1 892.46,710.0 892.46,728.5 892.46,693.3 892.46,737.7 896.14,713.1 896.14,734.0 896.14,722.3 896.14,691.5 896.14,716.1 899.82,706.9 899.82,687.5 899.82,700.7 899.82,756.5 899.82,731.5 903.50,734.6 903.50,718.6 903.50,746.9 903.50,691.5 907.18,716.1 907.18,685.3 907.18,710.0 907.18,744.5 907.18,700.7 910.86,740.8 910.86,747.6 910.86,750.0 910.86,746.9 910.86,685.3 914.54,731.5 914.54,706.6 914.54,734.6 914.54,728.5 914.54,700.7 918.22,728.5 918.22,722.3 918.22,709.7 918.22,725.4 921.90,710.0 921.90,712.4 921.90,725.4 921.90,750.0 921.90,738.6 925.58,700.4 925.58,737.7 925.58,746.9 925.58,723.2 925.58,728.5 929.26,721.4 929.26,740.8 929.26,734.6 929.26,732.2 929.26,737.7 932.94,754.0 932.94,727.8 932.94,716.1 932.94,728.5 932.94,710.0 936.62,706.9 936.62,700.4 936.62,703.8 936.62,731.5 936.62,754.0 940.30,743.9 940.30,731.5 940.30,725.4 940.30,754.0 940.30,712.4 943.98,740.8 943.98,709.7 943.98,731.5 943.98,750.3 943.98,737.7 947.66,737.7 947.66,731.5 947.66,712.4 947.66,744.5 947.66,728.5 951.34,725.4 951.34,731.5 951.34,709.7 951.34,744.5 951.34,734.6 955.02,734.6 955.02,725.4 955.02,667.2 955.02,756.5 955.02,722.3 958.70,696.4 958.70,737.7 958.70,734.6 958.70,706.9 958.70,754.0 962.38,722.3 962.38,734.6 962.38,756.2 962.38,703.2 962.38,765.7 966.06,743.9 966.06,725.4 966.06,721.4 966.06,754.0 966.06,719.2 969.74,756.5 969.74,743.9 969.74,719.2 969.74,746.9 969.74,725.1 973.42,709.7 973.42,784.5 973.42,719.2 977.10,750.3 977.10,696.4 977.10,743.9 977.10,737.7 977.10,710.0 980.78,750.0 980.78,725.1 980.78,772.5 980.78,737.7 980.78,750.0 984.46,750.3 984.46,722.3 984.46,728.5 984.46,725.4 984.46,721.4 988.14,721.4 988.14,710.0 988.14,725.4 988.14,737.7 988.14,747.6 991.82,722.3 991.82,693.3 991.82,728.5 991.82,747.6 991.82,710.0 995.50,740.8 995.50,743.9 995.50,725.4 995.50,703.2 995.50,763.0 999.18,687.5 999.18,750.0 999.18,741.4 999.18,746.9 1002.86,728.5 1002.86,715.5 1002.86,737.7 1002.86,716.1 1002.86,763.0 1006.54,722.3 1006.54,733.7 1006.54,731.5 1006.54,725.4 1006.54,768.8 1010.22,706.6 1010.22,754.0 1010.22,737.7 1010.22,716.1 1010.22,725.4 1013.90,756.5 1013.90,750.0 1013.90,716.1 1013.90,706.6 1013.90,740.8 1017.58,694.6 1017.58,754.0 1017.58,728.5 1017.58,700.7 1017.58,681.6 1021.26,703.2 1021.26,688.4 1021.26,653.6 1021.26,685.3 1024.94,691.5 1024.94,666.9 1024.94,688.4 1024.94,654.5 1024.94,641.9 1028.62,663.8 1028.62,687.5 1028.62,657.6 1028.62,669.9 1028.62,623.1 1032.30,694.6 1032.30,697.7 1032.30,691.5 1032.30,741.4 1032.30,713.1 1035.98,710.0 1035.98,754.0 1035.98,703.2 1035.98,737.7 1035.98,713.1 1039.66,712.4 1039.66,763.0 1039.66,716.1 1039.66,734.6 1039.66,731.5 1043.34,737.7 1043.34,730.3 1043.34,774.7 1043.34,746.9 1043.34,737.7 1047.02,743.9 1047.02,768.8 1047.02,709.7 1047.02,743.9 1050.70,753.1 1050.70,765.7 1050.70,753.1 1050.70,727.8 1050.70,740.8 1054.38,763.0 1054.38,727.8 1054.38,750.0 1054.38,768.5 1054.38,759.3 1058.06,753.1 1058.06,740.8 1058.06,750.0 1058.06,763.0 1058.06,727.8 1061.74,756.2 1061.74,727.8 1061.74,774.7 1061.74,756.2 1065.42,777.7 1065.42,743.9 1065.42,768.5 1065.42,749.4 1065.42,759.3 1069.10,734.6 1069.10,743.9 1069.10,765.4 1069.10,742.9 1069.10,784.5 1072.78,753.1 1072.78,774.7 1072.78,750.0 1072.78,730.3 1076.46,763.0 1076.46,759.3 1076.46,733.7 1076.46,750.0 1076.46,771.6 1080.14,750.3 1080.14,740.8 1080.14,771.6 1080.14,756.2 1080.14,706.0 1083.82,756.2 1083.82,730.3 1083.82,787.3 1083.82,743.9 1083.82,774.7 1087.50,734.6 1087.50,721.4 1087.50,750.0 1087.50,772.5 1087.50,743.9 1091.18,753.1 1091.18,777.7 1091.18,771.6 1091.18,733.7 1091.18,771.6 1094.86,774.7 1094.86,750.0 1094.86,762.3 1094.86,733.7 1094.86,753.1 1098.54,774.7 1098.54,759.3 1098.54,743.9 1098.54,762.3 1098.54,718.6 1102.22,759.3 1102.22,756.2 1102.22,743.9 1102.22,768.8 1102.22,736.8 1105.90,763.0 1105.90,722.3 1105.90,753.1 1105.90,763.0 1105.90,743.9 1109.58,753.1 1109.58,759.3 1109.58,799.9 1109.58,737.7 1109.58,746.9 1113.26,756.2 1113.26,725.1 1113.26,759.3 1113.26,740.8 1113.26,759.3 1116.94,734.0 1116.94,787.3 1116.94,765.4 1116.94,768.5 1116.94,774.7 1120.62,771.9 1120.62,756.2 1120.62,728.5 1120.62,742.9 1120.62,759.3 1124.30,756.5 1124.30,731.5 1124.30,737.7 1124.30,728.5 1124.30,750.0 1127.98,740.8 1127.98,737.7 1127.98,734.6 1127.98,775.6 1131.66,743.9 1131.66,746.9 1131.66,782.1 1131.66,750.3 1131.66,753.1 1135.34,762.3 1135.34,784.5 1135.34,739.5 1135.34,737.7 1135.34,756.2 1139.02,794.7 1139.02,756.2 1139.02,762.3 1139.02,756.2 1139.02,737.7 1142.70,777.4 1142.70,737.7 1142.70,774.7 1142.70,756.2 1142.70,765.4 1146.38,753.1 1146.38,750.0 1146.38,725.1 1146.38,791.0 1150.06,753.1 1150.06,784.5 1150.06,739.5 1150.06,759.3 1150.06,774.7 1153.74,765.4 1153.74,763.0 1153.74,731.5 1153.74,715.8 1153.74,774.7 1157.42,756.2 1157.42,766.7 1157.42,746.9 1157.42,713.4 1161.10,734.6 1161.10,782.1 1161.10,753.1 1161.10,756.2 1164.78,762.3 1164.78,765.4 1164.78,725.1 1164.78,791.0 1164.78,734.6 1168.46,722.3 1168.46,734.6 1168.46,731.5 1168.46,774.7 1172.14,713.4 1172.14,743.9 1172.14,765.4 1172.14,771.6 1175.82,703.2 1175.82,743.9 1175.82,766.7 1175.82,740.8 1175.82,737.7 1179.50,731.2 1179.50,766.7 1179.50,759.3 1179.50,768.5 1179.50,771.6 1183.18,740.5 1183.18,775.6 1183.18,728.5 1183.18,737.7 1183.18,740.8 1186.86,746.9 1186.86,740.5 1186.86,787.3 1186.86,743.9 1186.86,740.8 1190.54,765.4 1190.54,775.6 1190.54,759.3 1190.54,713.4 1190.54,740.8 1194.22,784.5 1194.22,768.5 1194.22,762.3 1194.22,746.6 1194.22,762.3 1197.90,750.0 1197.90,765.4 1197.90,784.5 1197.90,737.7 1201.58,746.9 1201.58,771.6 1201.58,734.0 1201.58,734.6 1201.58,763.0 1205.26,725.1 1205.26,765.4 1205.26,771.6 1205.26,753.1 1205.26,784.5 1208.94,740.8 1208.94,774.7 1208.94,756.2 1208.94,740.8 1208.94,746.6 1212.62,734.0 1212.62,753.1 1212.62,762.3 1212.62,763.0 1212.62,768.5 1216.30,756.5 1216.30,762.3 1216.30,731.2 1216.30,750.0 1216.30,762.3 1219.98,763.0 1219.98,774.7 1219.98,762.3 1219.98,774.7 1219.98,725.1 1223.66,728.5 1223.66,762.3 1223.66,778.4 1223.66,774.7 1223.66,753.1 1227.34,771.9 1227.34,753.1 1227.34,743.9 1227.34,750.0 1227.34,742.9 1231.02,765.4 1231.02,771.9 1231.02,753.1 1231.02,737.7 1234.70,706.6 1234.70,775.6 1234.70,737.7 1234.70,756.2 1234.70,765.4 1238.38,753.1 1238.38,743.9 1238.38,782.1 1238.38,753.1 1238.38,742.9 1242.06,756.2 1242.06,759.3 1242.06,742.9 1242.06,750.0 1242.06,769.4 1245.74,756.2 1245.74,746.9 1245.74,750.0 1245.74,737.7 1245.74,778.4 1249.42,742.9 1249.42,753.1 1249.42,756.5 1249.42,759.3 1249.42,746.9 1253.10,734.6 1253.10,759.3 1253.10,734.0 1253.10,763.0 1253.10,746.9 1256.78,706.6 1256.78,746.9 1256.78,771.9 1256.78,774.7 1256.78,765.4 1260.46,765.4 1260.46,762.3 1260.46,734.6 1260.46,728.5 1260.46,769.4 1264.14,740.8 1264.14,750.0 1264.14,731.2 1264.14,768.5 1264.14,769.4 1267.82,737.7 1267.82,743.9 1267.82,782.1 1267.82,725.1 1267.82,750.0 1271.50,753.1 1271.50,782.1 1271.50,753.1 1271.50,740.8 1271.50,753.1 1275.18,743.9 1275.18,778.4 1275.18,740.8 1275.18,725.1 1275.18,728.5 1278.86,766.7 1278.86,740.8 1278.86,713.4 1278.86,759.3 1278.86,762.3 1282.54,743.9 1282.54,719.2 1282.54,706.9 1282.54,734.6 1282.54,688.4 1286.22,728.5 1286.22,716.1 1286.22,697.7 1286.22,694.3 1286.22,694.6 1289.90,706.9 1289.90,697.7 1289.90,685.3 1289.90,660.7 1289.90,650.8 1293.58,666.9 1293.58,669.9 1293.58,711.5 1293.58,676.1 1293.58,645.0 1297.26,691.5 1297.26,734.9 1297.26,673.3 1297.26,697.7 1297.26,685.3 1300.94,688.4 1300.94,716.1 1300.94,713.1 1300.94,750.3 1300.94,722.3 1304.62,719.5 1304.62,771.9 1304.62,734.6 1304.62,753.1 1304.62,743.9 1308.30,763.0 1308.30,722.3 1308.30,740.8 1308.30,734.6 1308.30,740.8 1311.98,769.4 1311.98,746.9 1311.98,743.9 1311.98,725.1 1311.98,756.2 1315.66,722.3 1315.66,756.5 1315.66,765.4 1315.66,759.3 1315.66,746.9 1319.34,753.1 1319.34,756.2 1319.34,734.0 1319.34,769.4 1319.34,750.0 1323.02,765.4 1323.02,756.5 1323.02,753.1 1323.02,706.6 1326.70,750.3 1326.70,768.5 1326.70,771.6 1326.70,777.7 1326.70,737.7 1330.38,784.5 1330.38,756.2 1330.38,697.4 1330.38,734.6 1330.38,753.1 1334.06,782.1 1334.06,740.5 1334.06,740.8 1334.06,734.6 1334.06,746.9 1337.74,791.0 1337.74,746.6 1337.74,743.9 1337.74,759.3 1337.74,762.3 1341.42,764.8 1341.42,750.0 1341.42,771.6 1341.42,784.5 1341.42,765.4 1345.10,748.5 1345.10,787.3 1345.10,759.3 1345.10,737.7 1348.78,759.3 1348.78,777.7 1348.78,765.7 1348.78,746.6 1352.46,750.0 1352.46,763.0 1352.46,742.9 1352.46,765.4 1352.46,750.0 1356.14,780.8 1356.14,797.5 1356.14,765.4 1356.14,750.3 1356.14,780.8 1359.82,746.9 1359.82,774.7 1359.82,740.5 1359.82,771.6 1359.82,774.7 1363.50,780.8 1363.50,777.7 1363.50,768.5 1363.50,778.4 1363.50,755.9 1367.18,734.0 1367.18,784.5 1367.18,768.5 1367.18,759.3 1367.18,780.8 1370.86,756.2 1370.86,794.7 1370.86,737.7 1370.86,765.4 1370.86,780.8 1374.54,777.7 1374.54,771.6 1374.54,782.1 1374.54,759.3 1374.54,728.5 1378.22,782.1 1378.22,740.5 1378.22,777.7 1378.22,765.4 1378.22,768.5 1381.90,737.7 1381.90,771.6 1381.90,787.3 1381.90,765.4 1381.90,759.3 1385.58,725.1 1385.58,778.4 1385.58,783.9 1385.58,768.5 1385.58,777.7 1389.26,780.8 1389.26,787.3 1389.26,762.3 1389.26,790.1 1389.26,746.6 1392.94,734.0 1392.94,759.3 1392.94,763.0 1392.94,771.6 1396.62,755.9 1396.62,791.0 1396.62,780.8 1396.62,774.7 1400.30,774.7 1400.30,771.6 1400.30,778.4 1400.30,768.5 1400.30,753.1 1403.98,784.5 1403.98,740.5 1403.98,771.6 1403.98,762.3 1407.66,768.5 1407.66,759.3 1407.66,768.5 1407.66,763.0 1407.66,782.1 1411.34,763.0 1411.34,762.3 1411.34,791.0 1411.34,771.6 1411.34,774.7 1415.02,771.6 1415.02,782.1 1415.02,777.7 1415.02,787.0 1415.02,753.1 1418.70,762.3 1418.70,756.2 1418.70,740.5 1418.70,762.3 1418.70,787.3 1422.38,722.3 1422.38,762.3 1422.38,768.5 1422.38,784.5 1422.38,768.5 1426.06,768.5 1426.06,778.4 1426.06,753.1 1426.06,774.7 1426.06,746.6 1429.74,762.3 1429.74,759.3 1429.74,774.7 1429.74,734.0 1429.74,775.6 1433.42,768.5 1433.42,750.3 1433.42,794.7 1433.42,768.5 1437.10,746.9 1437.10,774.7 1437.10,794.7 1437.10,750.3 1437.10,765.4 1440.78,765.4 1440.78,771.6 1440.78,742.9 1440.78,771.6 1440.78,775.6 1444.46,774.7 1444.46,765.4 1444.46,799.9 1444.46,777.7 1444.46,710.3" fill="none" stroke="#1A6FDF" stroke-width="2" stroke-linejoin="bevel" shape-rendering="crispEdges"/>
<polyline points="1444.46,710.3 1448.14,765.4 1448.14,755.9 1448.14,746.9 1448.14,756.2 1448.14,799.9 1451.82,774.7 1451.82,777.7 1451.82,794.7 1451.82,731.2 1451.82,762.3 1455.50,794.7 1455.50,746.6 1455.50,783.9 1455.50,780.8 1455.50,777.7 1459.18,797.5 1459.18,780.8 1459.18,768.5 1459.18,780.8 1459.18,755.9 1462.86,765.4 1462.86,746.9 1462.86,742.9 1462.86,778.4 1462.86,777.7 1466.54,750.0 1466.54,746.9 1466.54,784.5 1466.54,737.7 1466.54,746.9 1470.22,728.5 1470.22,753.1 1470.22,743.9 1470.22,778.4 1470.22,768.5 1473.90,768.5 1473.90,759.3 1473.90,753.1 1473.90,737.7 1473.90,797.5 1477.58,722.3 1477.58,759.3 1477.58,771.9 1477.58,771.6 1477.58,768.5 1481.26,765.4 1481.26,759.3 1481.26,749.4 1481.26,794.7 1484.94,759.3 1484.94,742.9 1484.94,756.2 1484.94,778.4 1484.94,768.5 1488.62,756.2 1488.62,731.2 1488.62,768.5 1488.62,750.0 1488.62,791.0 1492.30,763.0 1492.30,750.0 1492.30,763.0 1492.30,715.8 1492.30,746.9 1495.98,734.0 1495.98,769.4 1495.98,746.9 1495.98,756.2 1495.98,753.1 1499.66,746.9 1499.66,737.7 1499.66,750.3 1499.66,715.8 1499.66,753.1 1503.34,725.1 1503.34,750.0 1503.34,748.5 1503.34,734.6 1503.34,748.5 1507.02,715.8 1507.02,763.0 1507.02,756.2 1507.02,762.3 1507.02,759.3 1510.70,759.3 1510.70,756.2 1510.70,715.8 1510.70,750.0 1510.70,771.9 1514.38,774.7 1514.38,787.3 1514.38,756.2 1514.38,725.1 1514.38,756.2 1518.06,794.7 1518.06,742.9 1518.06,771.6 1518.06,756.2 1518.06,771.6 1521.74,791.0 1521.74,750.0 1521.74,737.7 1521.74,765.4 1525.42,771.6 1525.42,768.5 1525.42,787.3 1525.42,749.4 1529.10,762.3 1529.10,756.2 1529.10,759.3 1529.10,782.1 1529.10,756.5 1532.78,794.7 1532.78,756.2 1532.78,768.5 1532.78,742.9 1536.46,759.3 1536.46,756.2 1536.46,787.3 1536.46,768.5 1536.46,743.9 1540.14,753.1 1540.14,794.7 1540.14,768.5 1540.14,759.3 1540.14,774.7 1543.82,756.2 1543.82,750.3 1543.82,759.3 1543.82,782.1 1547.50,784.5 1547.50,746.9 1547.50,750.0 1547.50,756.2 1547.50,740.5 1551.18,782.1 1551.18,759.3 1551.18,771.6 1551.18,750.3 1554.86,765.4 1554.86,787.3 1554.86,759.3 1554.86,756.5 1558.54,774.7 1558.54,750.3 1558.54,753.1 1558.54,750.0 1558.54,778.4 1562.22,765.4 1562.22,763.0 1562.22,737.7 1562.22,762.3 1562.22,743.9 1565.90,784.5 1565.90,746.9 1565.90,750.3 1565.90,743.9 1569.58,771.6 1569.58,774.7 1569.58,753.1 1569.58,771.9 1569.58,774.7 1573.26,791.0 1573.26,771.6 1573.26,734.0 1573.26,765.4 1576.94,784.5 1576.94,742.9 1576.94,756.2 1576.94,762.3 1576.94,756.2 1580.62,771.9 1580.62,731.2 1580.62,743.9 1580.62,746.9 1580.62,743.9 1584.30,765.4 1584.30,787.3 1584.30,750.0 1584.30,768.5 1584.30,746.6 1587.98,794.7 1587.98,734.0 1587.98,762.3 1587.98,750.0 1587.98,765.4 1591.66,720.8 1591.66,703.2 1591.66,768.5 1591.66,727.6 1595.34,754.4 1595.34,777.7 1595.34,743.2 1595.34,765.6 1599.02,734.6 1599.02,756.2 1599.02,719.2 1599.02,740.8 1599.02,734.6 1602.70,748.8 1602.70,777.7 1602.70,737.7 1602.70,770.0 1606.38,764.2 1606.38,719.5 1606.38,777.7 1606.38,736.1 1610.06,738.2 1610.06,694.3 1610.06,772.2 1610.06,758.0 1613.74,697.1 1613.74,673.3 1613.74,732.2 1613.74,693.6 1617.42,682.6 1617.42,657.0 1617.42,689.7 1617.42,683.1 1621.10,653.4 1621.10,663.8 1621.10,602.2 1621.10,626.1 1624.78,593.8 1624.78,631.4 1624.78,562.1 1624.78,591.6 1628.46,610.5 1628.46,640.1 1628.46,577.2 1628.46,594.4 1632.14,614.5 1632.14,655.8 1632.14,587.4 1632.14,635.4 1635.82,655.9 1635.82,686.9 1635.82,630.2 1635.82,662.0 1639.50,655.3 1639.50,645.6 1639.50,707.8 1639.50,689.3 1643.18,705.8 1643.18,729.7 1643.18,696.4 1643.18,714.8 1646.86,723.7 1646.86,676.1 1646.86,750.6 1646.86,728.1 1650.54,750.0 1650.54,769.7 1650.54,713.4 1650.54,751.8 1654.22,744.5 1654.22,713.4 1654.22,751.9 1654.22,720.4 1657.90,759.0 1657.90,780.8 1657.90,740.8 1657.90,754.8 1661.58,767.4 1661.58,777.7 1661.58,730.9 1661.58,762.2 1665.26,767.7 1665.26,777.7 1665.26,734.3 1665.26,756.3 1668.94,734.6 1668.94,771.6 1668.94,765.4 1668.94,734.6 1668.94,762.3 1672.62,742.8 1672.62,780.8 1672.62,734.3 1672.62,756.0 1676.30,733.2 1676.30,777.7 1676.30,722.0 1676.30,743.3 1679.98,721.4 1679.98,706.0 1679.98,771.6 1679.98,753.0 1683.66,750.0 1683.66,722.3 1683.66,750.0 1683.66,756.2 1683.66,774.7 1687.34,746.9 1687.34,756.2 1687.34,728.5 1687.34,771.6 1687.34,763.0 1691.02,774.7 1691.02,742.9 1691.02,756.2 1691.02,728.5 1691.02,740.8 1694.70,746.9 1694.70,737.7 1694.70,756.2 1694.70,769.4 1698.38,750.0 1698.38,750.3 1698.38,737.7 1698.38,775.6 1698.38,759.3 1702.06,762.3 1702.06,734.6 1702.06,746.6 1702.06,750.0 1702.06,778.4 1705.74,753.1 1705.74,759.3 1705.74,768.5 1705.74,787.3 1705.74,740.5 1709.42,771.6 1709.42,759.3 1709.42,774.7 1709.42,746.6 1713.10,753.1 1713.10,769.4 1713.10,753.1 1713.10,737.7 1713.10,746.9 1716.78,742.9 1716.78,743.9 1716.78,759.3 1716.78,797.5 1716.78,759.3 1720.46,791.0 1720.46,737.7 1720.46,728.5 1720.46,750.0 1720.46,728.5 1724.14,743.9 1724.14,737.7 1724.14,766.7 1724.14,765.4 1724.14,743.9 1727.82,784.5 1727.82,750.0 1727.82,746.9 1727.82,774.7 1727.82,737.7 1731.50,759.3 1731.50,765.4 1731.50,737.7 1731.50,731.5 1731.50,791.0 1735.18,769.4 1735.18,740.8 1735.18,753.1 1735.18,715.8 1735.18,750.0 1738.86,737.7 1738.86,769.4 1738.86,731.5 1738.86,734.6 1738.86,728.5 1742.54,737.7 1742.54,703.2 1742.54,775.6 1742.54,731.5 1742.54,740.8 1746.22,754.0 1746.22,722.3 1746.22,731.5 1746.22,710.3 1749.90,713.4 1749.90,719.2 1749.90,760.2 1749.90,713.1 1749.90,728.5 1753.58,722.3 1753.58,678.9 1753.58,703.8 1753.58,743.9 1757.26,697.4 1757.26,728.5 1757.26,719.2 1757.26,725.4 1757.26,760.2 1760.94,731.2 1760.94,759.3 1760.94,782.1 1760.94,762.3 1760.94,756.2 1764.62,759.3 1764.62,742.9 1764.62,778.4 1764.62,753.1 1764.62,734.6 1768.30,750.0 1768.30,763.0 1768.30,753.1 1768.30,762.3 1768.30,778.4 1771.98,756.5 1771.98,753.1 1771.98,777.7 1771.98,782.1 1771.98,753.1 1775.66,743.9 1775.66,765.4 1775.66,791.0 1775.66,746.6 1775.66,765.4 1779.34,746.6 1779.34,782.1 1779.34,750.0 1779.34,740.8 1779.34,746.9 1783.02,746.6 1783.02,777.7 1783.02,771.6 1783.02,765.4 1783.02,774.7 1786.70,740.5 1786.70,784.5 1786.70,750.0 1786.70,783.9 1786.70,780.8 1790.38,753.1 1790.38,766.7 1790.38,743.9 1790.38,756.2 1790.38,759.3 1794.06,774.7 1794.06,753.1 1794.06,756.5 1794.06,753.1 1794.06,750.0 1797.74,746.6 1797.74,762.3 1797.74,782.1 1797.74,774.7 1797.74,765.4 1801.42,774.7 1801.42,777.7 1801.42,737.7 1801.42,783.9 1801.42,799.9 1805.10,737.7 1805.10,799.9 1805.10,777.7 1805.10,787.0 1805.10,783.9 1808.78,740.5 1808.78,791.0 1808.78,768.5 1808.78,774.7 1808.78,777.7 1812.46,783.9 1812.46,784.5 1812.46,746.6 1812.46,793.1 1812.46,771.6 1816.14,725.1 1816.14,780.8 1816.14,777.7 1816.14,774.7 1816.14,794.7 1819.82,746.6 1819.82,774.7 1819.82,802.4 1819.82,793.1 1823.50,790.4" fill="none" stroke="#1A6FDF" stroke-width="2.5" stroke-linejoin="bevel" shape-rendering="crispEdges"/>
<polyline points="351.50,460.2 351.50,460.5 351.50,423.5 351.50,428.8 351.50,405.1 355.18,431.2 355.18,435.9 355.18,457.4 355.18,466.7 355.18,457.4 358.86,423.5 358.86,463.9 358.86,416.5 358.86,448.2 358.86,432.8 362.54,401.7 362.54,408.1 362.54,423.5 362.54,454.6 366.22,445.1 366.22,419.5 366.22,434.9 366.22,442.0 369.90,416.5 369.90,438.9 369.90,478.7 369.90,451.3 369.90,454.3 373.58,423.5 373.58,419.5 373.58,457.7 377.26,491.3 377.26,420.5 377.26,438.9 377.26,429.7 377.26,432.2 380.94,422.3 380.94,448.5 380.94,457.4 380.94,442.0 380.94,460.5 384.62,429.7 384.62,413.4 384.62,432.8 384.62,442.3 384.62,423.5 388.30,434.9 388.30,404.1 388.30,438.9 388.30,423.5 388.30,405.1 391.98,357.3 391.98,423.5 391.98,434.9 391.98,395.8 391.98,408.1 395.66,405.1 395.66,376.1 395.66,386.6 395.66,402.0 395.66,434.9 399.34,402.0 399.34,389.7 399.34,457.7 399.34,388.4 399.34,414.3 403.02,417.4 403.02,497.5 403.02,417.4 403.02,391.5 403.02,402.0 406.70,426.6 406.70,382.6 406.70,438.9 406.70,472.5 406.70,414.3 410.38,426.6 410.38,460.2 410.38,454.3 410.38,451.3 410.38,419.5 414.06,420.5 414.06,454.3 414.06,448.2 414.06,460.2 414.06,413.4 417.74,441.4 417.74,448.2 417.74,445.1 417.74,457.4 417.74,416.5 421.42,460.5 421.42,407.5 421.42,445.1 421.42,454.6 421.42,469.7 425.10,416.5 425.10,423.5 425.10,448.2 425.10,435.9 425.10,472.5 428.78,429.7 428.78,472.5 428.78,413.4 428.78,451.3 428.78,454.3 432.46,432.8 432.46,432.2 432.46,429.7 432.46,454.6 432.46,469.7 436.14,466.7 436.14,451.3 436.14,435.9 436.14,410.6 436.14,472.5 439.82,454.3 439.82,469.7 439.82,441.4 439.82,463.9 439.82,472.8 443.50,413.4 443.50,444.2 443.50,438.9 443.50,451.3 443.50,457.4 447.18,463.6 447.18,401.7 447.18,469.4 447.18,466.7 447.18,442.0 450.86,475.6 450.86,434.9 450.86,460.5 450.86,432.8 454.54,448.2 454.54,469.4 454.54,413.4 454.54,432.8 454.54,448.2 458.22,434.9 458.22,432.8 458.22,423.5 458.22,442.0 458.22,488.2 461.90,419.5 461.90,454.3 461.90,472.5 461.90,432.8 461.90,426.6 465.58,429.7 465.58,423.5 465.58,448.2 465.58,469.4 465.58,438.6 469.26,463.0 469.26,423.5 469.26,442.0 469.26,428.8 469.26,448.2 472.94,445.1 472.94,426.0 472.94,442.0 472.94,485.1 472.94,451.3 476.62,428.8 476.62,466.7 476.62,448.2 476.62,445.1 476.62,451.3 480.30,454.6 480.30,410.6 480.30,451.3 480.30,454.3 480.30,442.0 483.98,434.9 483.98,435.9 483.98,445.1 483.98,469.7 483.98,475.6 487.66,472.8 487.66,454.3 487.66,469.7 487.66,401.7 487.66,426.6 491.34,454.3 491.34,429.7 491.34,460.5 491.34,488.2 495.02,478.7 495.02,463.6 495.02,466.7 495.02,438.6 495.02,454.3 498.70,416.5 498.70,460.5 498.70,475.6 498.70,420.5 498.70,435.9 502.38,463.6 502.38,438.9 502.38,419.5 502.38,454.6 502.38,426.6 506.06,438.9 506.06,426.0 506.06,469.4 506.06,451.3 506.06,445.1 509.74,475.6 509.74,445.1 509.74,463.6 509.74,397.4 509.74,469.7 513.42,420.5 513.42,485.1 513.42,451.3 513.42,454.3 513.42,413.4 517.10,445.1 517.10,448.2 517.10,463.0 517.10,448.2 517.10,419.5 520.78,432.2 520.78,447.6 520.78,438.9 520.78,448.2 524.46,423.5 524.46,451.3 524.46,416.5 524.46,488.2 524.46,417.4 528.14,451.3 528.14,478.7 528.14,466.7 528.14,428.8 528.14,448.2 531.82,434.9 531.82,432.8 531.82,482.4 531.82,451.3 531.82,457.4 535.50,438.9 535.50,460.2 535.50,432.8 535.50,438.6 535.50,448.2 539.18,454.3 539.18,494.7 539.18,426.0 542.86,445.1 542.86,466.7 542.86,432.8 542.86,426.0 542.86,426.6 546.54,429.7 546.54,441.4 546.54,426.6 546.54,460.2 546.54,438.9 550.22,485.1 550.22,460.5 550.22,442.0 550.22,422.3 550.22,426.6 553.90,420.5 553.90,423.5 553.90,412.5 553.90,448.5 553.90,432.8 557.58,469.4 557.58,460.5 557.58,410.6 557.58,429.7 557.58,432.8 561.26,438.6 561.26,412.5 561.26,442.0 561.26,420.5 561.26,432.8 564.94,442.2 564.94,451.3 564.94,394.3 564.94,408.5 568.62,369.9 568.62,357.0 568.62,420.5 568.62,376.3 572.30,323.4 572.30,286.8 572.30,380.4 572.30,323.7 575.98,326.1 575.98,343.5 575.98,298.5 575.98,322.7 579.66,348.9 579.66,311.1 579.66,395.2 579.66,345.2 583.34,404.2 583.34,391.2 583.34,435.9 583.34,429.0 587.02,420.1 587.02,404.1 587.02,454.3 587.02,438.0 590.70,426.0 590.70,460.2 590.70,445.1 590.70,451.3 594.38,466.7 594.38,460.5 594.38,438.6 594.38,438.9 594.38,463.0 598.06,435.9 598.06,475.6 598.06,451.3 598.06,438.9 598.06,434.9 601.74,432.2 601.74,417.4 601.74,426.6 601.74,460.2 601.74,435.9 605.42,478.7 605.42,429.7 605.42,404.1 609.10,491.3 609.10,448.2 609.10,442.0 609.10,435.9 609.10,416.5 612.78,426.0 612.78,472.8 612.78,466.7 612.78,463.6 612.78,463.9 616.46,460.5 616.46,419.5 616.46,488.2 616.46,475.9 620.14,454.3 620.14,404.1 620.14,435.9 620.14,469.4 620.14,457.4 623.82,491.3 623.82,451.3 623.82,428.8 623.82,451.3 623.82,420.5 627.50,466.7 627.50,457.4 627.50,428.8 627.50,448.2 627.50,482.4 631.18,460.5 631.18,466.7 631.18,435.9 631.18,407.5 631.18,457.7 634.86,491.3 634.86,460.5 634.86,454.3 634.86,434.9 638.54,488.2 638.54,451.3 638.54,434.9 638.54,429.7 638.54,451.3 642.22,472.5 642.22,445.1 642.22,454.3 642.22,451.3 642.22,432.2 645.90,488.2 645.90,457.4 645.90,448.2 645.90,454.0 645.90,432.8 649.58,460.2 649.58,432.8 649.58,451.3 649.58,422.3 649.58,457.4 653.26,454.3 653.26,457.4 653.26,475.6 653.26,457.4 653.26,422.3 656.94,457.4 656.94,404.1 656.94,432.8 656.94,460.2 656.94,454.3 660.62,429.7 660.62,419.5 660.62,435.9 660.62,448.5 660.62,426.6 664.30,432.8 664.30,401.7 664.30,454.6 664.30,451.3 664.30,429.7 667.98,463.6 667.98,460.2 667.98,460.5 667.98,444.2 671.66,451.3 671.66,434.9 671.66,488.2 671.66,454.3 671.66,451.3 675.34,432.2 675.34,457.4 675.34,460.5 675.34,451.3 675.34,466.7 679.02,448.5 679.02,422.3 679.02,448.2 679.02,426.6 679.02,457.4 682.70,466.7 682.70,413.4 682.70,469.4 682.70,423.5 682.70,429.7 686.38,397.4 686.38,435.9 686.38,438.9 686.38,472.5 686.38,426.6 690.06,482.4 690.06,413.4 690.06,445.1 690.06,432.8 693.74,447.6 693.74,445.1 693.74,475.6 693.74,442.0 693.74,463.6 697.42,414.3 697.42,463.0 697.42,438.9 697.42,448.2 697.42,401.7 701.10,429.7 701.10,469.4 701.10,419.5 701.10,432.8 701.10,448.2 704.78,466.7 704.78,413.4 704.78,417.4 704.78,420.5 704.78,448.2 708.46,423.5 708.46,451.3 708.46,457.7 708.46,442.0 708.46,416.5 712.14,432.8 712.14,454.3 712.14,423.5 712.14,469.4 712.14,401.7 715.82,451.3 715.82,466.7 715.82,438.9 715.82,407.5 715.82,429.7 719.50,432.8 719.50,438.9 719.50,407.5 719.50,469.4 719.50,438.9 723.18,416.5 723.18,411.2 723.18,454.6 723.18,402.0 723.18,426.6 726.86,435.9 726.86,426.6 726.86,466.7 726.86,429.7 726.86,416.8 730.54,490.1 730.54,401.4 730.54,417.4 730.54,402.0 730.54,420.5 734.22,438.9 734.22,445.1 734.22,454.3 734.22,457.4 734.22,422.3 737.90,445.1 737.90,466.7 737.90,428.5 737.90,454.3 737.90,428.8 741.58,414.3 741.58,445.1 741.58,426.6 741.58,413.1 741.58,469.7 745.26,457.4 745.26,442.0 745.26,432.8 745.26,391.5 748.94,407.5 748.94,435.9 748.94,438.6 748.94,426.6 748.94,435.9 752.62,472.8 752.62,426.6 752.62,442.0 752.62,416.8 752.62,457.4 756.30,407.5 756.30,417.4 756.30,442.0 756.30,426.6 756.30,451.3 759.98,438.6 759.98,408.1 759.98,411.2 759.98,401.4 759.98,429.7 763.66,407.5 763.66,475.6 763.66,445.1 763.66,408.1 763.66,395.8 767.34,420.5 767.34,432.2 767.34,402.0 767.34,370.3 767.34,423.5 771.02,395.8 771.02,414.3 771.02,422.3 771.02,448.5 771.02,405.1 774.70,423.5 774.70,417.4 774.70,404.1 774.70,448.5 774.70,435.9 778.38,435.9 778.38,405.1 778.38,451.3 778.38,397.7 778.38,423.5 782.06,394.3 782.06,389.7 782.06,438.6 782.06,402.0 785.74,435.9 785.74,391.5 785.74,426.6 785.74,451.3 789.42,395.8 789.42,391.5 789.42,389.7 789.42,460.2 789.42,405.1 793.10,398.9 793.10,443.9 793.10,404.1 793.10,451.3 793.10,432.8 796.78,373.3 796.78,392.7 796.78,441.1 796.78,386.6 796.78,429.7 800.46,417.4 800.46,413.1 800.46,448.2 800.46,398.9 800.46,385.0 804.14,402.0 804.14,414.3 804.14,379.2 804.14,432.2 807.82,385.0 807.82,411.2 807.82,429.7 807.82,398.9 807.82,444.8 811.50,414.3 811.50,439.6 811.50,426.6 811.50,420.5 811.50,387.8 815.18,439.6 815.18,414.3 815.18,382.6 815.18,420.5 815.18,429.7 818.86,363.5 818.86,417.4 818.86,377.3 818.86,432.2 818.86,377.3 822.54,415.8 822.54,414.3 822.54,423.5 822.54,442.0 822.54,391.5 826.22,454.6 826.22,391.5 826.22,411.2 826.22,414.3 826.22,411.2 829.90,386.6 829.90,383.5 829.90,413.1 829.90,397.7 829.90,371.2 833.58,383.5 833.58,376.1 833.58,416.8 833.58,398.9 833.58,408.1 837.26,380.4 837.26,425.7 837.26,389.7 837.26,377.3 837.26,348.1 840.94,380.4 840.94,354.5 840.94,405.1 840.94,386.6 840.94,392.7 844.62,423.2 844.62,342.2 844.62,405.1 844.62,426.6 844.62,429.7 848.30,380.4 848.30,348.1 848.30,380.4 848.30,413.1 851.98,388.7 851.98,432.2 851.98,389.7 851.98,358.9 851.98,386.6 855.66,373.3 855.66,386.6 855.66,374.3 855.66,426.6 855.66,392.7 859.34,408.1 859.34,395.8 859.34,392.7 859.34,363.5 859.34,380.4 863.02,395.8 863.02,407.8 863.02,380.4 863.02,382.6 863.02,389.7 866.70,377.3 866.70,357.0 866.70,389.7 866.70,432.2 866.70,380.4 870.38,373.3 870.38,402.0 870.38,411.2 870.38,418.6 870.38,414.3 874.06,410.6 874.06,382.6 874.06,408.1 874.06,429.7 874.06,408.1 877.74,425.7 877.74,371.2 877.74,374.3 877.74,377.3 877.74,379.2 881.42,354.5 881.42,432.2 881.42,392.7 881.42,383.5 881.42,389.7 885.10,413.1 885.10,414.3 885.10,402.0 885.10,411.2 885.10,394.3 888.78,417.4 888.78,411.2 888.78,429.4 888.78,401.4 888.78,411.2 892.46,388.7 892.46,411.2 892.46,422.3 892.46,429.7 892.46,414.3 896.14,354.5 896.14,392.7 896.14,361.9 896.14,374.3 896.14,425.7 899.82,425.7 899.82,368.1 899.82,374.3 899.82,395.8 899.82,373.3 903.50,395.8 903.50,388.7 903.50,395.8 903.50,448.5 903.50,402.0 907.18,374.3 907.18,402.0 907.18,382.6 907.18,365.0 907.18,438.6 910.86,401.4 910.86,423.2 910.86,414.3 910.86,383.5 910.86,432.8 914.54,404.1 914.54,411.2 914.54,383.5 914.54,413.1 914.54,395.8 918.22,400.4 918.22,395.8 918.22,385.0 918.22,389.7 921.90,383.5 921.90,408.1 921.90,472.8 921.90,374.3 921.90,391.5 925.58,447.6 925.58,420.5 925.58,414.3 925.58,407.5 925.58,438.9 929.26,405.1 929.26,408.1 929.26,401.4 929.26,451.3 932.94,407.5 932.94,389.7 932.94,392.7 932.94,444.8 932.94,380.4 936.62,373.3 936.62,411.2 936.62,398.9 936.62,457.4 940.30,402.0 940.30,451.3 940.30,404.1 940.30,432.8 940.30,414.3 943.98,420.5 943.98,460.2 943.98,423.5 943.98,397.7 943.98,408.1 947.66,426.6 947.66,397.7 947.66,457.4 947.66,426.6 947.66,389.7 951.34,451.3 951.34,413.1 951.34,442.0 951.34,429.7 951.34,438.9 955.02,426.6 955.02,475.6 955.02,426.6 955.02,419.5 955.02,411.2 958.70,429.7 958.70,407.5 958.70,411.2 958.70,419.5 958.70,417.4 962.38,398.9 962.38,460.2 962.38,432.8 962.38,414.3 962.38,388.7 966.06,401.4 966.06,435.9 966.06,429.7 966.06,456.5 966.06,435.9 969.74,481.8 969.74,435.9 969.74,420.5 969.74,451.3 969.74,410.6 973.42,429.7 973.42,385.0 973.42,445.1 973.42,438.6 973.42,429.7 977.10,414.3 977.10,425.7 977.10,420.5 977.10,398.9 977.10,469.7 980.78,417.4 980.78,423.5 980.78,457.4 980.78,410.6 984.46,419.5 984.46,442.0 984.46,472.8 984.46,402.0 984.46,445.1 988.14,442.0 988.14,490.1 988.14,434.9 988.14,454.3 988.14,460.5 991.82,438.9 991.82,442.0 991.82,469.7 991.82,413.1 991.82,417.4 995.50,442.0 995.50,469.7 995.50,419.5 995.50,438.9 995.50,435.9 999.18,423.5 999.18,410.6 999.18,490.1 999.18,417.4 999.18,451.3 1002.86,438.6 1002.86,429.7 1002.86,457.4 1002.86,435.9 1002.86,411.2 1006.54,463.9 1006.54,414.3 1006.54,404.1 1006.54,451.3 1006.54,445.1 1010.22,417.4 1010.22,451.3 1010.22,448.2 1010.22,401.4 1010.22,451.3 1013.90,394.3 1013.90,411.2 1013.90,454.6 1013.90,426.6 1013.90,398.9 1017.58,408.1 1017.58,438.6 1017.58,402.0 1017.58,394.3 1017.58,380.4 1021.26,374.3 1021.26,387.8 1021.26,345.3 1021.26,355.8 1024.94,395.2 1024.94,370.3 1024.94,405.1 1024.94,380.4 1024.94,371.2 1028.62,395.8 1028.62,389.7 1028.62,370.3 1028.62,397.7 1028.62,386.6 1032.30,392.4 1032.30,423.5 1032.30,408.1 1032.30,457.4 1032.30,438.9 1035.98,438.6 1035.98,441.1 1035.98,420.5 1035.98,451.3 1035.98,405.1 1039.66,463.9 1039.66,429.7 1039.66,417.4 1039.66,385.0 1039.66,445.1 1043.34,463.9 1043.34,445.1 1043.34,407.5 1043.34,435.9 1047.02,416.8 1047.02,438.9 1047.02,472.8 1047.02,429.7 1050.70,426.6 1050.70,407.5 1050.70,429.7 1050.70,426.6 1050.70,469.7 1054.38,445.1 1054.38,463.9 1054.38,442.0 1054.38,425.7 1054.38,445.1 1058.06,441.1 1058.06,460.5 1058.06,475.6 1058.06,438.9 1058.06,420.5 1061.74,457.4 1061.74,445.1 1061.74,441.1 1061.74,460.5 1061.74,442.0 1065.42,478.4 1065.42,435.9 1065.42,422.3 1065.42,463.6 1065.42,460.5 1069.10,422.3 1069.10,432.8 1069.10,463.9 1069.10,472.8 1069.10,463.6 1072.78,463.9 1072.78,475.9 1072.78,438.9 1072.78,448.2 1072.78,441.1 1076.46,442.0 1076.46,448.2 1076.46,460.2 1076.46,410.6 1076.46,457.4 1080.14,448.2 1080.14,428.5 1080.14,448.2 1080.14,438.9 1080.14,481.8 1083.82,469.7 1083.82,413.1 1083.82,454.3 1083.82,485.4 1083.82,423.5 1087.50,485.4 1087.50,442.0 1087.50,448.2 1087.50,454.3 1087.50,438.6 1091.18,469.7 1091.18,466.7 1091.18,457.4 1091.18,438.9 1091.18,425.7 1094.86,410.6 1094.86,448.2 1094.86,475.6 1094.86,451.3 1094.86,475.9 1098.54,481.8 1098.54,448.2 1098.54,441.1 1098.54,460.5 1098.54,457.4 1102.22,442.0 1102.22,466.7 1102.22,440.2 1102.22,485.4 1102.22,448.2 1105.90,416.5 1105.90,454.3 1105.90,479.3 1105.90,454.3 1109.58,394.3 1109.58,423.5 1109.58,448.2 1109.58,451.3 1109.58,466.7 1113.26,451.3 1113.26,434.9 1113.26,442.0 1113.26,447.6 1113.26,466.7 1116.94,442.0 1116.94,425.7 1116.94,466.7 1116.94,475.6 1116.94,438.9 1120.62,454.3 1120.62,457.4 1120.62,441.1 1120.62,444.2 1120.62,482.4 1124.30,453.1 1124.30,460.5 1124.30,454.3 1124.30,475.6 1124.30,454.0 1127.98,485.1 1127.98,442.0 1127.98,429.7 1127.98,459.3 1127.98,466.7 1131.66,463.0 1131.66,475.6 1131.66,448.2 1131.66,457.4 1131.66,438.9 1135.34,444.2 1135.34,466.7 1135.34,435.9 1135.34,442.0 1135.34,454.3 1139.02,466.7 1139.02,460.5 1139.02,466.7 1139.02,454.3 1139.02,434.9 1142.70,442.0 1142.70,460.5 1142.70,434.9 1142.70,448.2 1142.70,457.7 1146.38,442.0 1146.38,475.6 1146.38,454.3 1146.38,416.5 1146.38,457.4 1150.06,482.4 1150.06,440.5 1150.06,438.9 1150.06,479.0 1150.06,429.7 1153.74,488.2 1153.74,454.3 1153.74,448.2 1153.74,444.2 1153.74,460.5 1157.42,472.8 1157.42,442.0 1157.42,465.7 1157.42,466.7 1157.42,494.7 1161.10,435.9 1161.10,460.5 1161.10,475.6 1161.10,434.9 1161.10,448.2 1164.78,442.0 1164.78,401.7 1164.78,454.3 1164.78,460.2 1164.78,466.7 1168.46,457.4 1168.46,432.8 1168.46,442.0 1168.46,457.7 1168.46,394.3 1172.14,469.7 1172.14,466.7 1172.14,457.4 1172.14,472.8 1172.14,438.6 1175.82,428.8 1175.82,457.4 1175.82,438.9 1175.82,479.3 1179.50,488.2 1179.50,441.4 1179.50,457.4 1179.50,460.5 1183.18,460.5 1183.18,466.7 1183.18,442.0 1183.18,438.6 1186.86,479.3 1186.86,448.2 1186.86,422.3 1186.86,454.3 1186.86,479.0 1190.54,454.3 1190.54,469.7 1190.54,451.3 1190.54,482.4 1190.54,428.8 1194.22,428.8 1194.22,454.3 1194.22,485.1 1194.22,448.2 1194.22,460.5 1197.90,457.4 1197.90,419.5 1197.90,457.4 1197.90,491.3 1201.58,454.3 1201.58,475.6 1201.58,448.2 1201.58,434.9 1201.58,454.3 1205.26,391.5 1205.26,503.6 1205.26,423.5 1205.26,457.4 1205.26,448.2 1208.94,469.7 1208.94,429.7 1208.94,451.3 1208.94,497.5 1208.94,441.4 1212.62,428.8 1212.62,454.3 1212.62,442.0 1212.62,472.8 1212.62,460.2 1216.30,475.9 1216.30,469.4 1216.30,428.8 1216.30,454.3 1216.30,460.5 1219.98,463.6 1219.98,445.1 1219.98,463.6 1219.98,469.4 1219.98,422.3 1223.66,432.2 1223.66,454.3 1223.66,457.4 1223.66,494.7 1223.66,475.9 1227.34,469.4 1227.34,463.6 1227.34,451.3 1227.34,463.6 1227.34,416.5 1231.02,438.6 1231.02,426.6 1231.02,482.4 1231.02,438.9 1231.02,445.1 1234.70,431.2 1234.70,454.3 1234.70,442.0 1234.70,438.9 1234.70,494.7 1238.38,444.2 1238.38,445.1 1238.38,454.3 1238.38,469.4 1238.38,457.4 1242.06,440.5 1242.06,448.2 1242.06,466.7 1242.06,472.8 1242.06,429.7 1245.74,444.2 1245.74,445.1 1245.74,472.8 1245.74,448.2 1245.74,457.4 1249.42,454.3 1249.42,447.6 1249.42,448.2 1249.42,494.7 1249.42,442.0 1253.10,479.3 1253.10,431.2 1253.10,475.9 1253.10,463.6 1256.78,447.6 1256.78,463.6 1256.78,494.7 1256.78,445.1 1256.78,451.3 1260.46,435.9 1260.46,425.7 1260.46,423.5 1260.46,435.9 1260.46,488.2 1264.14,479.3 1264.14,435.9 1264.14,451.3 1264.14,454.0 1264.14,435.9 1267.82,422.3 1267.82,442.0 1267.82,429.7 1267.82,475.6 1271.50,469.4 1271.50,454.3 1271.50,442.0 1271.50,434.9 1275.18,432.8 1275.18,472.8 1275.18,429.7 1275.18,463.6 1275.18,425.7 1278.86,435.9 1278.86,475.6 1278.86,425.7 1278.86,414.3 1278.86,417.4 1282.54,426.6 1282.54,451.3 1282.54,408.1 1282.54,445.1 1282.54,404.1 1286.22,402.0 1286.22,392.7 1286.22,463.0 1286.22,373.6 1286.22,389.7 1289.90,373.6 1289.90,365.0 1289.90,441.4 1289.90,365.0 1289.90,380.4 1293.58,392.7 1293.58,357.3 1293.58,380.4 1293.58,416.8 1293.58,395.8 1297.26,407.8 1297.26,408.1 1297.26,411.2 1297.26,420.5 1297.26,454.6 1300.94,416.5 1300.94,463.9 1300.94,435.9 1300.94,438.9 1300.94,432.8 1304.62,454.3 1304.62,485.1 1304.62,429.7 1304.62,397.4 1308.30,429.7 1308.30,445.1 1308.30,457.7 1308.30,426.6 1308.30,428.8 1311.98,454.6 1311.98,445.1 1311.98,457.4 1311.98,410.6 1311.98,463.6 1315.66,442.0 1315.66,460.5 1315.66,438.9 1315.66,482.4 1315.66,432.2 1319.34,457.4 1319.34,454.3 1319.34,503.6 1319.34,482.1 1319.34,438.6 1323.02,460.2 1323.02,500.8 1323.02,454.3 1323.02,435.9 1323.02,460.5 1326.70,482.4 1326.70,457.4 1326.70,435.9 1326.70,428.8 1330.38,451.3 1330.38,460.2 1330.38,472.8 1330.38,438.6 1330.38,463.6 1334.06,425.7 1334.06,438.9 1334.06,451.3 1334.06,448.2 1334.06,454.3 1337.74,454.3 1337.74,432.2 1337.74,451.3 1337.74,460.2 1337.74,460.5 1341.42,463.6 1341.42,448.2 1341.42,434.9 1341.42,451.3 1341.42,482.4 1345.10,431.2 1345.10,485.1 1345.10,435.9 1345.10,460.5 1345.10,463.6 1348.78,479.0 1348.78,485.1 1348.78,479.0 1348.78,482.1 1348.78,447.6 1352.46,469.4 1352.46,450.3 1352.46,463.6 1352.46,454.3 1356.14,456.8 1356.14,445.1 1356.14,485.1 1356.14,460.5 1356.14,463.6 1359.82,454.3 1359.82,460.5 1359.82,463.6 1359.82,460.5 1359.82,494.7 1363.50,510.1 1363.50,482.1 1363.50,479.0 1363.50,482.1 1363.50,465.7 1367.18,463.6 1367.18,507.3 1367.18,466.7 1367.18,448.2 1367.18,456.8 1370.86,482.4 1370.86,469.7 1370.86,450.3 1370.86,469.7 1370.86,466.7 1374.54,466.7 1374.54,491.3 1374.54,482.1 1374.54,450.3 1374.54,460.5 1378.22,482.4 1378.22,454.3 1378.22,466.7 1378.22,472.8 1378.22,444.2 1381.90,460.5 1381.90,451.3 1381.90,438.6 1381.90,454.3 1381.90,479.3 1385.58,445.1 1385.58,451.3 1385.58,434.9 1385.58,454.3 1385.58,475.6 1389.26,444.2 1389.26,460.5 1389.26,466.7 1389.26,488.2 1392.94,479.0 1392.94,466.7 1392.94,447.6 1392.94,494.7 1396.62,472.8 1396.62,466.7 1396.62,459.3 1396.62,491.3 1396.62,463.6 1400.30,479.0 1400.30,482.4 1400.30,488.2 1400.30,454.3 1400.30,440.5 1403.98,469.4 1403.98,472.8 1403.98,469.7 1403.98,466.7 1403.98,444.2 1407.66,447.6 1407.66,463.6 1407.66,494.7 1407.66,466.7 1407.66,463.6 1411.34,460.5 1411.34,491.3 1411.34,434.9 1411.34,469.7 1411.34,463.6 1415.02,450.3 1415.02,442.0 1415.02,454.3 1415.02,488.2 1415.02,463.6 1418.70,460.5 1418.70,434.9 1418.70,491.3 1418.70,482.1 1418.70,472.8 1422.38,500.8 1422.38,466.7 1422.38,444.2 1422.38,451.3 1422.38,466.7 1426.06,447.6 1426.06,472.8 1426.06,488.2 1426.06,482.1 1429.74,466.7 1429.74,463.6 1429.74,448.2 1429.74,456.8 1429.74,494.7 1433.42,475.6 1433.42,457.4 1433.42,447.6 1433.42,466.7 1437.10,463.6 1437.10,488.2 1437.10,466.7 1437.10,450.3 1437.10,451.3 1440.78,448.2 1440.78,457.4 1440.78,444.2 1440.78,475.9 1440.78,479.3 1444.46,491.3 1444.46,466.7 1444.46,463.6 1444.46,448.2 1444.46,431.2" fill="none" stroke="#37AD6B" stroke-width="2" stroke-linejoin="bevel" shape-rendering="crispEdges"/>
<polyline points="1444.46,431.2 1448.14,466.7 1448.14,469.7 1448.14,463.0 1448.14,469.7 1448.14,485.1 1451.82,466.7 1451.82,440.5 1451.82,457.4 1451.82,472.8 1451.82,491.3 1455.50,472.8 1455.50,447.6 1455.50,494.7 1455.50,472.8 1455.50,469.7 1459.18,457.4 1459.18,454.0 1459.18,460.5 1459.18,469.7 1459.18,497.5 1462.86,475.9 1462.86,500.8 1462.86,460.5 1462.86,425.7 1462.86,460.5 1466.54,445.1 1466.54,469.7 1466.54,444.2 1466.54,469.4 1466.54,451.3 1470.22,479.0 1470.22,491.3 1470.22,454.3 1470.22,463.6 1470.22,440.5 1473.90,432.2 1473.90,491.3 1473.90,460.5 1473.90,463.6 1477.58,432.2 1477.58,460.5 1477.58,469.7 1477.58,510.1 1477.58,463.6 1481.26,466.7 1481.26,488.2 1481.26,472.8 1481.26,422.3 1484.94,444.2 1484.94,488.2 1484.94,466.7 1484.94,463.6 1484.94,466.7 1488.62,431.2 1488.62,445.1 1488.62,442.0 1488.62,457.4 1488.62,459.3 1492.30,438.6 1492.30,441.4 1492.30,451.3 1492.30,469.4 1492.30,451.3 1495.98,448.2 1495.98,445.1 1495.98,454.3 1495.98,454.6 1495.98,410.6 1499.66,445.1 1499.66,463.9 1499.66,422.3 1499.66,429.7 1503.34,445.1 1503.34,438.9 1503.34,448.2 1503.34,428.8 1503.34,460.2 1507.02,469.4 1507.02,422.3 1507.02,442.0 1507.02,469.7 1510.70,448.2 1510.70,434.9 1510.70,466.7 1510.70,451.3 1510.70,448.2 1514.38,488.2 1514.38,451.3 1514.38,434.9 1514.38,442.0 1518.06,428.8 1518.06,479.0 1518.06,469.4 1518.06,472.8 1518.06,466.7 1521.74,469.7 1521.74,456.8 1521.74,448.2 1521.74,488.2 1521.74,479.0 1525.42,466.7 1525.42,450.3 1525.42,479.0 1525.42,488.2 1525.42,479.0 1529.10,475.6 1529.10,482.1 1529.10,475.9 1529.10,443.6 1532.78,463.6 1532.78,475.6 1532.78,456.8 1532.78,472.8 1532.78,454.3 1536.46,450.3 1536.46,457.4 1536.46,454.3 1536.46,460.5 1536.46,497.5 1540.14,448.2 1540.14,482.4 1540.14,450.3 1540.14,472.8 1540.14,460.5 1543.82,469.7 1543.82,459.3 1543.82,472.8 1543.82,475.9 1543.82,478.7 1547.50,459.3 1547.50,494.7 1547.50,466.7 1547.50,454.3 1551.18,494.7 1551.18,404.1 1551.18,488.2 1551.18,451.3 1551.18,472.8 1554.86,454.3 1554.86,451.3 1554.86,438.6 1554.86,475.6 1554.86,451.3 1558.54,456.8 1558.54,478.7 1558.54,466.7 1558.54,472.8 1558.54,466.7 1562.22,469.7 1562.22,475.9 1562.22,463.9 1562.22,438.6 1562.22,466.7 1565.90,469.7 1565.90,451.3 1565.90,472.8 1565.90,478.7 1565.90,425.7 1569.58,440.5 1569.58,494.7 1569.58,457.4 1569.58,469.7 1569.58,463.6 1573.26,425.7 1573.26,469.7 1573.26,466.7 1573.26,463.6 1573.26,475.6 1576.94,438.6 1576.94,451.3 1576.94,475.6 1576.94,463.6 1576.94,466.7 1580.62,460.2 1580.62,463.6 1580.62,478.7 1580.62,466.7 1580.62,482.1 1584.30,466.7 1584.30,450.3 1584.30,469.7 1584.30,478.7 1584.30,472.8 1587.98,482.4 1587.98,472.8 1587.98,469.7 1587.98,444.2 1587.98,457.4 1591.66,444.2 1591.66,435.9 1591.66,482.4 1591.66,460.5 1595.34,428.8 1595.34,442.0 1595.34,457.4 1595.34,460.5 1595.34,472.8 1599.02,457.4 1599.02,453.1 1599.02,478.7 1599.02,454.3 1599.02,463.6 1602.70,454.1 1602.70,469.7 1602.70,425.4 1602.70,459.9 1606.38,458.7 1606.38,469.7 1606.38,450.3 1606.38,457.4 1610.06,451.8 1610.06,469.7 1610.06,427.9 1610.06,456.2 1613.74,405.5 1613.74,390.0 1613.74,438.3 1613.74,419.8 1617.42,401.4 1617.42,420.8 1617.42,345.3 1617.42,400.7 1621.10,384.1 1621.10,342.5 1621.10,414.6 1621.10,389.7 1624.78,356.1 1624.78,334.2 1624.78,383.5 1624.78,364.4 1628.46,369.3 1628.46,317.0 1628.46,383.5 1628.46,364.3 1632.14,359.6 1632.14,325.0 1632.14,392.7 1632.14,341.3 1635.82,353.8 1635.82,302.2 1635.82,408.8 1635.82,346.3 1639.50,347.6 1639.50,314.2 1639.50,426.6 1639.50,369.4 1643.18,410.5 1643.18,448.5 1643.18,396.1 1643.18,410.1 1646.86,415.1 1646.86,407.5 1646.86,445.1 1646.86,426.3 1650.54,441.8 1650.54,454.3 1650.54,425.4 1650.54,435.7 1654.22,423.6 1654.22,485.1 1654.22,410.6 1654.22,423.0 1657.90,432.4 1657.90,410.6 1657.90,478.7 1657.90,423.4 1661.58,438.3 1661.58,471.9 1661.58,401.4 1661.58,442.7 1665.26,461.5 1665.26,443.6 1665.26,472.8 1665.26,454.9 1668.94,452.8 1668.94,468.2 1668.94,422.6 1668.94,431.1 1672.62,442.9 1672.62,425.4 1672.62,488.2 1672.62,460.9 1676.30,431.2 1676.30,466.7 1676.30,478.7 1676.30,466.7 1676.30,454.3 1679.98,466.7 1679.98,447.6 1679.98,463.0 1679.98,469.7 1679.98,457.4 1683.66,454.3 1683.66,388.4 1683.66,445.1 1683.66,466.7 1683.66,488.2 1687.34,475.9 1687.34,469.7 1687.34,457.4 1687.34,497.5 1687.34,463.0 1691.02,463.6 1691.02,457.4 1691.02,485.1 1691.02,488.2 1691.02,444.2 1694.70,451.3 1694.70,453.1 1694.70,469.7 1694.70,466.7 1694.70,494.7 1698.38,440.5 1698.38,457.4 1698.38,510.1 1698.38,445.1 1698.38,463.6 1702.06,469.7 1702.06,466.7 1702.06,460.5 1702.06,459.3 1702.06,488.2 1705.74,431.2 1705.74,469.7 1705.74,457.4 1705.74,460.5 1705.74,478.7 1709.42,440.5 1709.42,506.4 1709.42,460.5 1709.42,466.7 1713.10,475.9 1713.10,457.4 1713.10,491.3 1713.10,456.8 1713.10,472.8 1716.78,445.1 1716.78,491.3 1716.78,463.6 1716.78,443.6 1716.78,463.6 1720.46,466.7 1720.46,456.8 1720.46,491.3 1720.46,457.4 1720.46,460.5 1724.14,466.7 1724.14,434.6 1724.14,460.5 1724.14,503.6 1724.14,460.5 1727.82,466.7 1727.82,475.9 1727.82,443.6 1727.82,494.7 1727.82,488.2 1731.50,472.8 1731.50,478.7 1731.50,485.1 1731.50,459.3 1731.50,466.7 1735.18,488.2 1735.18,440.5 1735.18,457.4 1735.18,432.8 1735.18,448.2 1738.86,451.3 1738.86,456.8 1738.86,475.6 1738.86,448.2 1738.86,454.3 1742.54,438.9 1742.54,451.3 1742.54,432.8 1742.54,438.6 1742.54,485.1 1746.22,457.7 1746.22,410.6 1746.22,426.6 1746.22,435.9 1746.22,438.9 1749.90,442.0 1749.90,457.4 1749.90,419.5 1749.90,472.8 1749.90,423.5 1753.58,454.6 1753.58,460.5 1753.58,426.6 1753.58,451.3 1753.58,416.5 1757.26,451.3 1757.26,428.8 1757.26,457.4 1757.26,429.7 1757.26,454.6 1760.94,447.6 1760.94,451.3 1760.94,454.3 1760.94,457.4 1760.94,482.4 1764.62,485.1 1764.62,479.0 1764.62,434.6 1764.62,485.1 1764.62,435.9 1768.30,453.1 1768.30,479.0 1768.30,485.1 1768.30,479.0 1768.30,457.4 1771.98,472.8 1771.98,491.3 1771.98,456.8 1771.98,454.3 1771.98,442.0 1775.66,457.4 1775.66,510.1 1775.66,459.3 1775.66,482.1 1775.66,472.8 1779.34,460.5 1779.34,500.8 1779.34,453.1 1779.34,475.9 1779.34,466.7 1783.02,475.9 1783.02,488.2 1783.02,500.8 1783.02,440.5 1783.02,482.1 1786.70,482.1 1786.70,494.7 1786.70,456.8 1786.70,475.9 1786.70,479.0 1790.38,503.6 1790.38,479.0 1790.38,466.7 1790.38,482.1 1790.38,463.9 1794.06,425.7 1794.06,475.9 1794.06,485.1 1794.06,491.3 1794.06,485.1 1797.74,482.1 1797.74,453.1 1797.74,472.8 1797.74,510.1 1801.42,488.2 1801.42,485.1 1801.42,463.0 1801.42,482.1 1801.42,500.8 1805.10,510.1 1805.10,485.1 1805.10,447.6 1805.10,494.4 1805.10,485.1 1808.78,459.3 1808.78,491.3 1808.78,485.1 1808.78,500.8 1808.78,494.4 1812.46,456.8 1812.46,497.5 1812.46,510.1 1812.46,506.7 1816.14,485.1 1816.14,494.4 1816.14,463.0 1816.14,503.6 1816.14,491.3 1819.82,491.3 1819.82,500.8 1819.82,491.3 1819.82,459.3 1819.82,494.4 1823.50,499.6" fill="none" stroke="#37AD6B" stroke-width="2.5" stroke-linejoin="bevel" shape-rendering="crispEdges"/>
</g>
<g id="refline" fill="#000" shape-rendering="crispEdges">
<rect x="853" y="427.0" width="6" height="37.5"/>
<rect x="853" y="477.0" width="6" height="37.5"/>
<rect x="853" y="527.0" width="6" height="37.5"/>
<rect x="853" y="577.0" width="6" height="37.5"/>
<rect x="853" y="627.0" width="6" height="37.5"/>
<rect x="853" y="677.0" width="6" height="37.5"/>
<rect x="853" y="727.0" width="6" height="37.5"/>
<rect x="853" y="777.0" width="6" height="37.5"/>
<rect x="853" y="827.0" width="6" height="37.5"/>
<rect x="853" y="877.0" width="6" height="37.5"/>
<rect x="853" y="927.0" width="6" height="37.5"/>
<rect x="853" y="977.0" width="6" height="37.5"/>
<rect x="853" y="1027.0" width="6" height="37.5"/>
<rect x="853" y="1077.0" width="6" height="37.5"/>
<rect x="853" y="1127.0" width="6" height="37.5"/>
<rect x="853" y="1177.0" width="6" height="37.5"/>
<rect x="853" y="1227.0" width="6" height="37.5"/>
<rect x="853" y="1277.0" width="6" height="37.5"/>
<rect x="853" y="1327.0" width="6" height="37.5"/>
<rect x="853" y="1377.0" width="6" height="37.5"/>
<rect x="853" y="1427.0" width="6" height="32.0"/>
</g>
<g id="axes" fill="#000" shape-rendering="crispEdges">
<rect x="257" y="227" width="5" height="1247"/>
<rect x="235" y="1459" width="1683" height="5"/>
<rect x="235" y="1305" width="22" height="5"/>
<rect x="235" y="1151" width="22" height="5"/>
<rect x="235" y="997" width="22" height="5"/>
<rect x="235" y="843" width="22" height="5"/>
<rect x="235" y="689" width="22" height="5"/>
<rect x="235" y="535" width="22" height="5"/>
<rect x="235" y="381" width="22" height="5"/>
<rect x="235" y="227" width="22" height="5"/>
<rect x="248" y="1382" width="9" height="5"/>
<rect x="248" y="1228" width="9" height="5"/>
<rect x="248" y="1074" width="9" height="5"/>
<rect x="248" y="920" width="9" height="5"/>
<rect x="248" y="766" width="9" height="5"/>
<rect x="248" y="612" width="9" height="5"/>
<rect x="248" y="458" width="9" height="5"/>
<rect x="248" y="304" width="9" height="5"/>
<rect x="349" y="1464" width="5" height="22"/>
<rect x="533" y="1464" width="5" height="22"/>
<rect x="717" y="1464" width="5" height="22"/>
<rect x="901" y="1464" width="5" height="22"/>
<rect x="1085" y="1464" width="5" height="22"/>
<rect x="1269" y="1464" width="5" height="22"/>
<rect x="1453" y="1464" width="5" height="22"/>
<rect x="1637" y="1464" width="5" height="22"/>
<rect x="1821" y="1464" width="5" height="22"/>
<rect x="257" y="1464" width="5" height="10"/>
<rect x="441" y="1464" width="5" height="10"/>
<rect x="625" y="1464" width="5" height="10"/>
<rect x="809" y="1464" width="5" height="10"/>
<rect x="993" y="1464" width="5" height="10"/>
<rect x="1177" y="1464" width="5" height="10"/>
<rect x="1361" y="1464" width="5" height="10"/>
<rect x="1545" y="1464" width="5" height="10"/>
<rect x="1729" y="1464" width="5" height="10"/>
<rect x="1913" y="1464" width="5" height="10"/>
</g>
<g id="ticklabels" font-family='"Liberation Sans", Arial, Helvetica, sans-serif' font-size="51.5" stroke="#000" stroke-width="0.6">
<text transform="translate(219.5,1477.0) scale(1,1.015)" text-anchor="end">0</text>
<text transform="translate(219.5,1323.0) scale(1,1.015)" text-anchor="end">50</text>
<text transform="translate(219.5,1169.0) scale(1,1.015)" text-anchor="end">100</text>
<text transform="translate(219.5,1015.0) scale(1,1.015)" text-anchor="end">150</text>
<text transform="translate(219.5,861.0) scale(1,1.015)" text-anchor="end">200</text>
<text transform="translate(219.5,707.0) scale(1,1.015)" text-anchor="end">250</text>
<text transform="translate(219.5,553.0) scale(1,1.015)" text-anchor="end">300</text>
<text transform="translate(219.5,399.0) scale(1,1.015)" text-anchor="end">350</text>
<text transform="translate(219.5,245.0) scale(1,1.015)" text-anchor="end">400</text>
<text transform="translate(351.5,1543) scale(1,1.015)" text-anchor="middle">30</text>
<text transform="translate(535.5,1543) scale(1,1.015)" text-anchor="middle">35</text>
<text transform="translate(719.5,1543) scale(1,1.015)" text-anchor="middle">40</text>
<text transform="translate(903.5,1543) scale(1,1.015)" text-anchor="middle">45</text>
<text transform="translate(1087.5,1543) scale(1,1.015)" text-anchor="middle">50</text>
<text transform="translate(1271.5,1543) scale(1,1.015)" text-anchor="middle">55</text>
<text transform="translate(1455.5,1543) scale(1,1.015)" text-anchor="middle">60</text>
<text transform="translate(1639.5,1543) scale(1,1.015)" text-anchor="middle">65</text>
<text transform="translate(1823.5,1543) scale(1,1.015)" text-anchor="middle">70</text>
</g>
<g id="titles" font-family='"Liberation Serif", "Times New Roman", Times, serif'>
<text font-size="72.55" transform="translate(71.7,1076.1) rotate(-90) scale(1,1.05)">Intensity(Arb.Unit)</text>
<text font-size="73.1" transform="translate(906.7,1655) scale(1,1.05)">2<tspan font-size="68" dx="1.3">θ</tspan><tspan dx="2.5">(</tspan><tspan dx="0.7">d</tspan><tspan dx="-2">e</tspan><tspan dx="-0.7">g</tspan><tspan dx="0.7">.</tspan><tspan dx="-2.1">)</tspan></text>
</g>
<g id="annot" font-family='"DejaVu Sans Condensed", "DejaVu Sans", "Liberation Sans", sans-serif' font-size="62.7" stroke="#000" stroke-width="0.5">
<text transform="translate(880,326) rotate(-90)"><tspan x="-5.5" y="0">F</tspan><tspan x="27.4" y="0">e</tspan><tspan font-family="DejaVu Sans, Liberation Sans, sans-serif" font-size="41.0" x="62.0 87.5 99.0" y="18.0">0.8</tspan><tspan x="125.0" y="0">G</tspan><tspan x="170.3" y="0">a</tspan><tspan font-family="DejaVu Sans, Liberation Sans, sans-serif" font-size="41.0" x="205.0 230.0 243.3" y="18.0">0.2</tspan><tspan x="267.5" y="0">B</tspan></text>
</g>
<g id="legend" stroke-width="0.6">
<rect x="1919.5" y="143.5" width="305" height="322" fill="#fff" stroke="#000" stroke-width="3" shape-rendering="crispEdges"/>
<rect x="1927" y="186.0" width="143" height="2" fill="#37AD6B" shape-rendering="crispEdges"/>
<text font-family='"Liberation Sans", Arial, Helvetica, sans-serif' font-size="64.5" stroke="#000" transform="translate(2085,208.5) scale(1,1.04)">67W</text>
<rect x="1927" y="264.0" width="143" height="2" fill="#1A6FDF" shape-rendering="crispEdges"/>
<text font-family='"Liberation Sans", Arial, Helvetica, sans-serif' font-size="64.5" stroke="#000" transform="translate(2085,287.0) scale(1,1.04)">60W</text>
<rect x="1927" y="343.0" width="143" height="2" fill="#F14040" shape-rendering="crispEdges"/>
<text font-family='"Liberation Sans", Arial, Helvetica, sans-serif' font-size="64.5" stroke="#000" transform="translate(2085,365.5) scale(1,1.04)">53W</text>
<rect x="1927" y="421.0" width="143" height="2" fill="#515151" shape-rendering="crispEdges"/>
<text font-family='"Liberation Sans", Arial, Helvetica, sans-serif' font-size="64.5" stroke="#000" transform="translate(2085,444.0) scale(1,1.04)">46W</text>
</g>
</svg>
</body></html>
